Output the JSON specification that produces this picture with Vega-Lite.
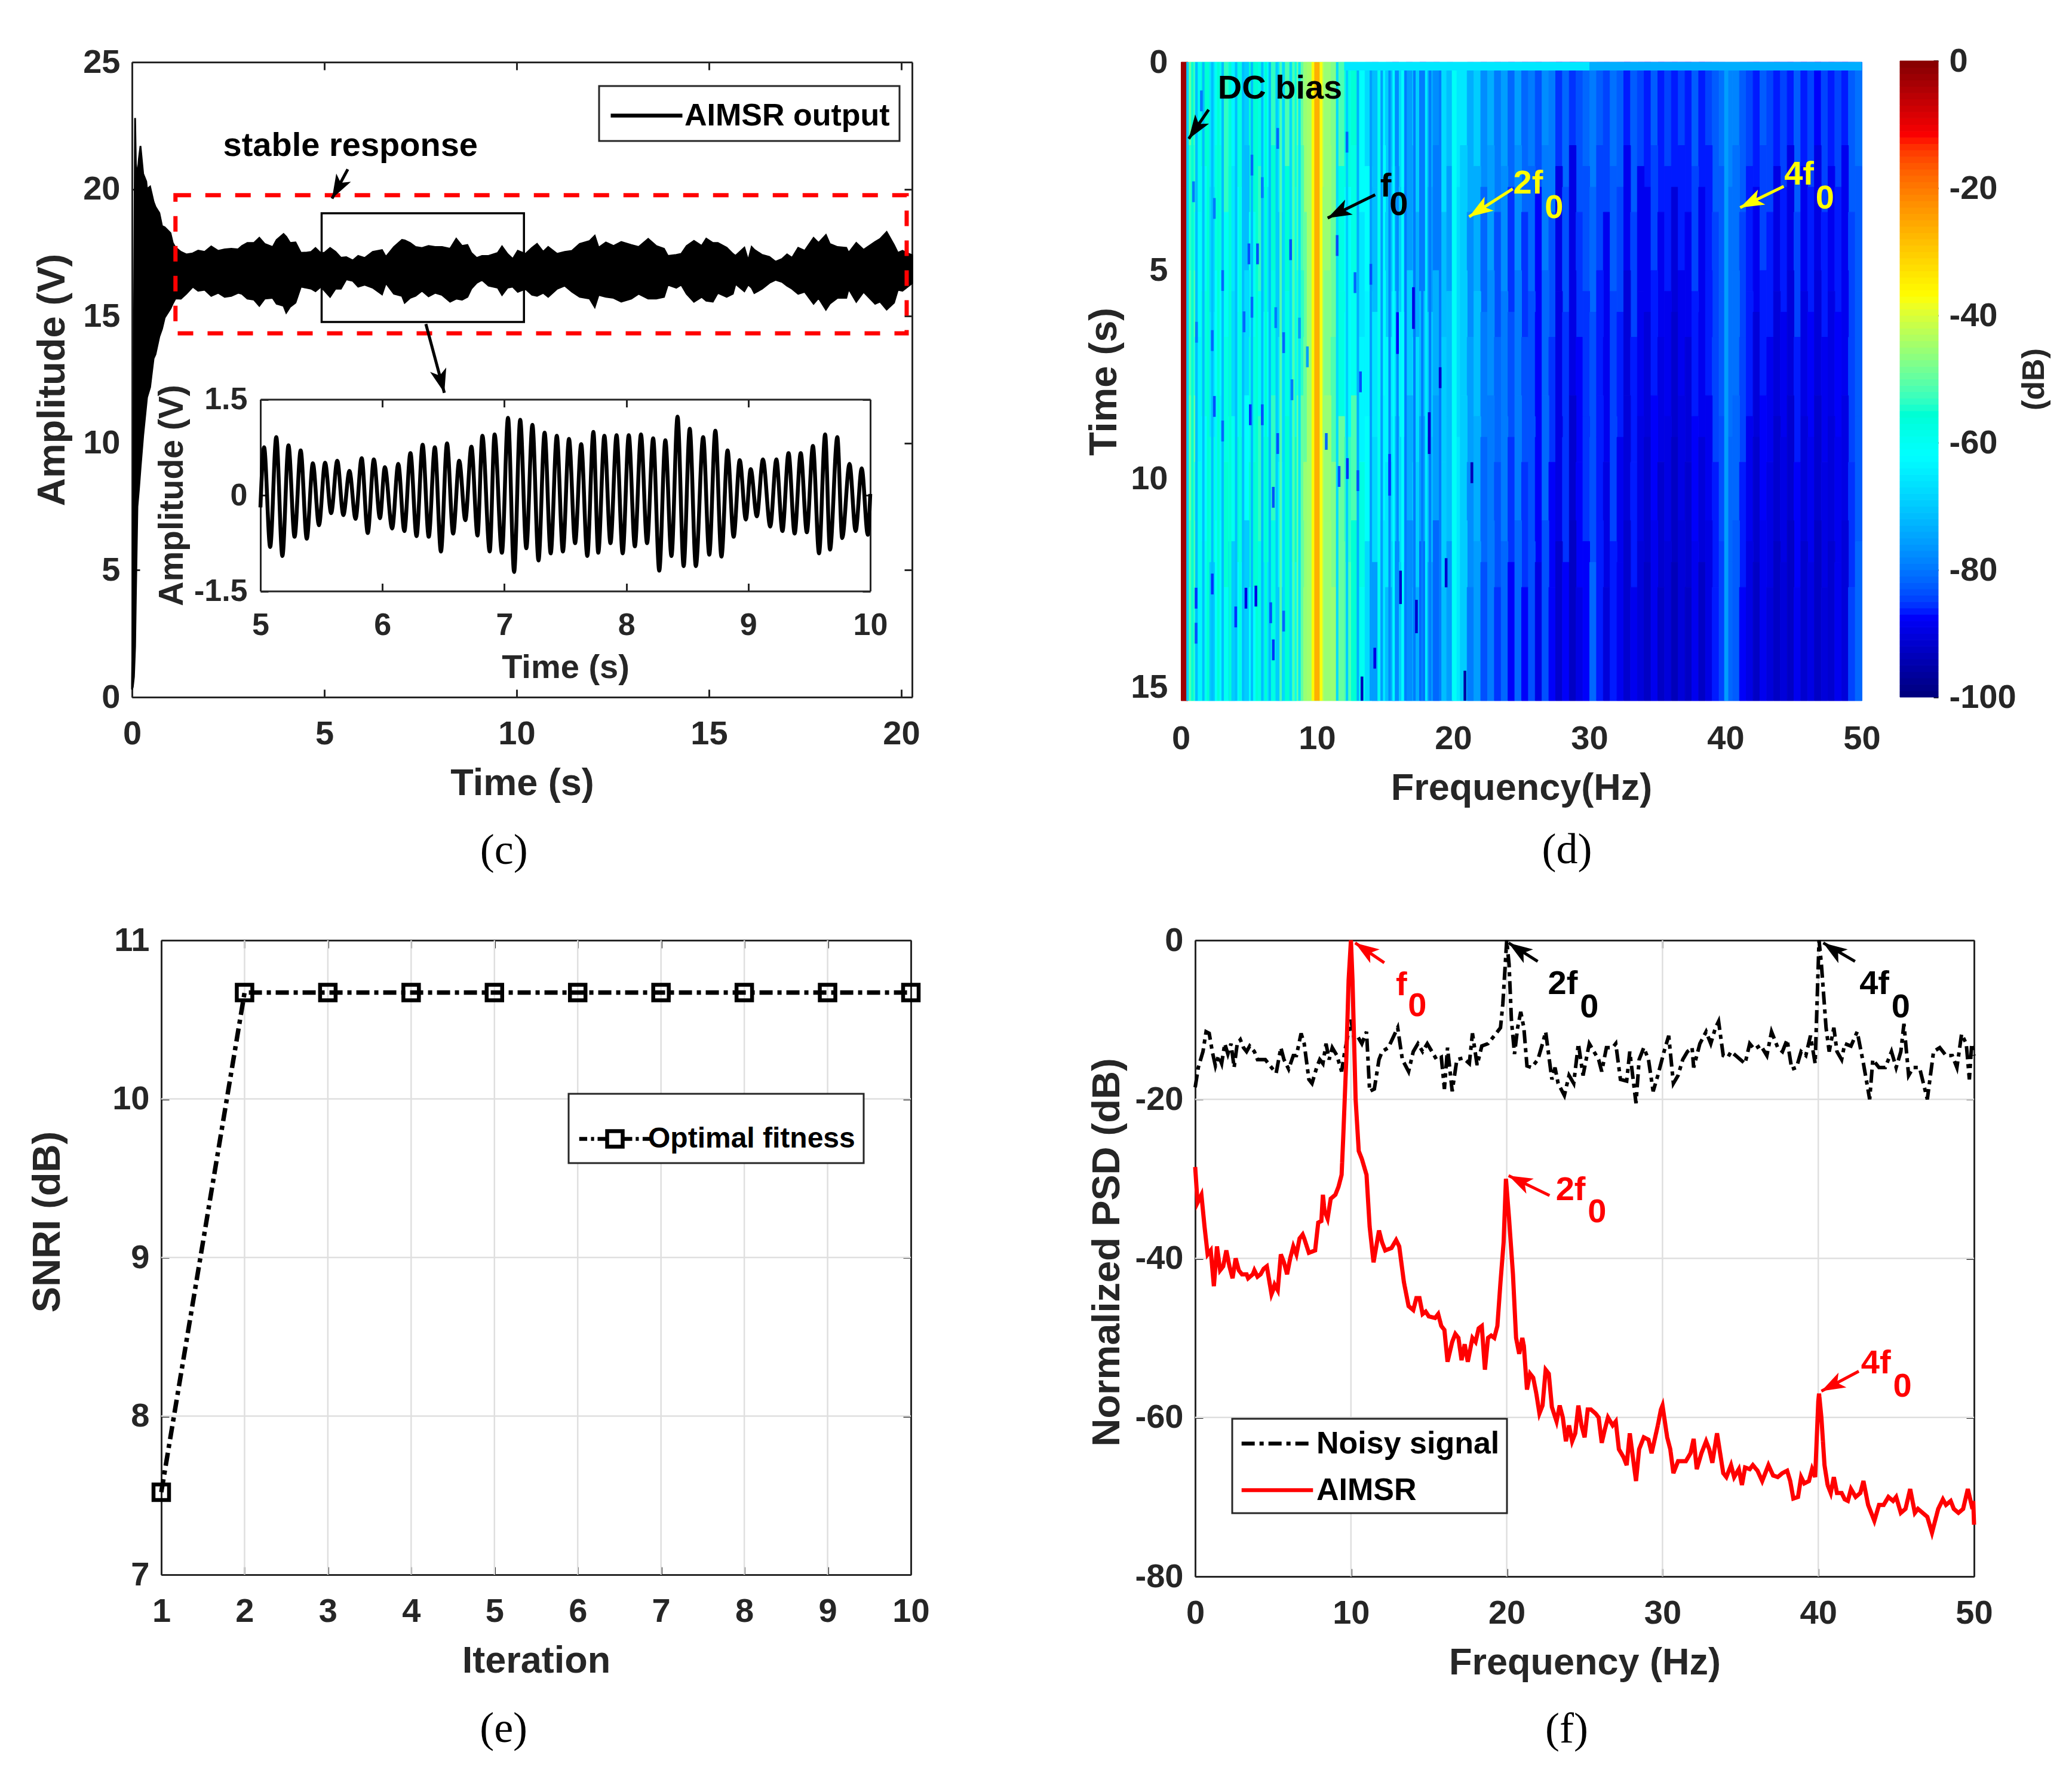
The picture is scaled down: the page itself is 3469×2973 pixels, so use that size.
{
"$schema":"https://vega.github.io/schema/vega-lite/v6.json",
"width":3469,"height":2973,"autosize":"none","padding":0,"background":"white",
"config":{"view":{"stroke":null},
"axis":{"grid":false,"labelFont":"Liberation Sans","labelFontWeight":"bold","labelFontSize":56,"labelColor":"#262626","labelOverlap":false,"labelBound":false,"labelFlush":false,"titleFont":"Liberation Sans","titleFontWeight":"bold","titleFontSize":63,"titleColor":"#262626","domainColor":"#262626","domainWidth":3,"tickColor":"#262626","tickWidth":3,"tickSize":-13},
"axisBottom":{"labelPadding":47,"titlePadding":24},
"axisLeft":{"labelPadding":33,"titleFontSize":65,"titlePadding":17},
"legend":{"strokeWidth":3}},
"datasets":{
"signal":[{"x":0,"hi":0.5,"lo":0.3},{"x":0.02,"hi":3,"lo":0.4},{"x":0.05,"hi":14,"lo":0.8},{"x":0.08,"hi":22.8,"lo":2},{"x":0.1,"hi":21,"lo":4},{"x":0.14,"hi":20.5,"lo":7.5},{"x":0.18,"hi":21.2,"lo":8.2},{"x":0.22,"hi":21.7,"lo":9},{"x":0.29,"hi":20.6,"lo":10.3},{"x":0.37,"hi":20.3,"lo":11.5},{"x":0.39,"hi":20,"lo":11.8},{"x":0.47,"hi":20.1,"lo":12.2},{"x":0.56,"hi":19.5,"lo":13.33},{"x":0.61,"hi":19.3,"lo":13.5},{"x":0.71,"hi":19.06,"lo":14.2},{"x":0.78,"hi":18.55,"lo":14.5},{"x":0.85,"hi":18.5,"lo":14.94},{"x":1,"hi":18.27,"lo":15.3},{"x":1.06,"hi":17.88,"lo":15.5},{"x":1.13,"hi":17.7,"lo":15.7},
{"x":1.27,"hi":17.53,"lo":15.69},{"x":1.41,"hi":17.43,"lo":15.88},{"x":1.58,"hi":17.47,"lo":16.16},{"x":1.72,"hi":17.58,"lo":16},{"x":1.89,"hi":17.53,"lo":16.04},{"x":2.06,"hi":17.74,"lo":15.8},{"x":2.24,"hi":17.57,"lo":15.92},{"x":2.41,"hi":17.63,"lo":15.76},{"x":2.58,"hi":17.65,"lo":15.8},{"x":2.76,"hi":17.63,"lo":15.92},{"x":2.86,"hi":17.76,"lo":15.88},{"x":3,"hi":17.88,"lo":15.69},{"x":3.17,"hi":17.88,"lo":15.65},{"x":3.31,"hi":18.08,"lo":15.41},{"x":3.45,"hi":17.84,"lo":15.69},{"x":3.66,"hi":17.72,"lo":15.72},{"x":3.76,"hi":18,"lo":15.49},{"x":3.94,"hi":18.23,"lo":15.41},{"x":4.01,"hi":18.12,"lo":15.14},{"x":4.11,"hi":17.88,"lo":15.37},{"x":4.25,"hi":17.9,"lo":15.53},{"x":4.39,"hi":17.49,"lo":16.16},{"x":4.53,"hi":17.5,"lo":16.12},{"x":4.66,"hi":17.53,"lo":16.08},{"x":4.77,"hi":17.68,"lo":15.98},{"x":4.91,"hi":17.47,"lo":16.16},{"x":5.01,"hi":17.5,"lo":16},{"x":5.15,"hi":17.68,"lo":15.76},{"x":5.29,"hi":17.53,"lo":16.08},{"x":5.43,"hi":17.3,"lo":16.08},{"x":5.57,"hi":17.32,"lo":16.45},{"x":5.74,"hi":17.19,"lo":16.39},{"x":5.88,"hi":17.37,"lo":16.16},{"x":6.05,"hi":17.29,"lo":16.24},{"x":6.26,"hi":17.53,"lo":16.12},{"x":6.5,"hi":17.6,"lo":15.86},{"x":6.6,"hi":17.33,"lo":16.31},{"x":6.81,"hi":17.72,"lo":15.88},{"x":7.02,"hi":18,"lo":15.8},{"x":7.09,"hi":17.98,"lo":15.53},{"x":7.23,"hi":17.88,"lo":15.72},{"x":7.37,"hi":17.72,"lo":15.8},{"x":7.54,"hi":17.68,"lo":16},{"x":7.71,"hi":17.76,"lo":15.78},{"x":7.88,"hi":17.72,"lo":15.92},{"x":8.06,"hi":17.72,"lo":15.84},{"x":8.27,"hi":17.65,"lo":15.57},{"x":8.43,"hi":18.04,"lo":15.69},{"x":8.58,"hi":17.76,"lo":15.65},{"x":8.72,"hi":17.8,"lo":15.76},{"x":8.82,"hi":17.49,"lo":16.08},{"x":8.96,"hi":17.29,"lo":16.31},{"x":9.1,"hi":17.37,"lo":16.43},{"x":9.27,"hi":17.37,"lo":16.2},{"x":9.51,"hi":17.49,"lo":16.12},{"x":9.62,"hi":17.74,"lo":15.84},{"x":9.76,"hi":17.45,"lo":16.12},{"x":9.9,"hi":17.25,"lo":16.16},{"x":10.03,"hi":17.57,"lo":15.96},
{"x":10.23,"hi":17.45,"lo":16.08},{"x":10.4,"hi":17.69,"lo":15.84},{"x":10.53,"hi":17.84,"lo":15.8},{"x":10.69,"hi":17.53,"lo":15.92},{"x":10.82,"hi":17.72,"lo":15.76},{"x":11.05,"hi":17.45,"lo":16.08},{"x":11.25,"hi":17.53,"lo":16.2},{"x":11.44,"hi":17.57,"lo":15.96},{"x":11.64,"hi":17.84,"lo":15.76},{"x":11.9,"hi":17.96,"lo":15.69},{"x":12.03,"hi":18.16,"lo":15.36},{"x":12.13,"hi":17.69,"lo":15.84},{"x":12.32,"hi":17.9,"lo":15.76},{"x":12.52,"hi":17.76,"lo":15.72},{"x":12.72,"hi":17.92,"lo":15.57},{"x":12.98,"hi":17.8,"lo":15.69},{"x":13.17,"hi":17.72,"lo":15.88},{"x":13.42,"hi":18.04,"lo":15.69},{"x":13.63,"hi":17.76,"lo":15.69},{"x":13.83,"hi":17.65,"lo":15.76},{"x":13.93,"hi":17.37,"lo":16.24},{"x":14.15,"hi":17.41,"lo":16.12},{"x":14.28,"hi":17.45,"lo":16.24},{"x":14.42,"hi":17.76,"lo":15.88},{"x":14.61,"hi":17.96,"lo":15.57},{"x":14.81,"hi":17.76,"lo":15.76},{"x":14.93,"hi":18.05,"lo":15.61},{"x":15.1,"hi":17.88,"lo":15.57},{"x":15.23,"hi":17.88,"lo":15.92},{"x":15.46,"hi":17.69,"lo":15.76},{"x":15.62,"hi":17.45,"lo":15.88},{"x":15.69,"hi":17.37,"lo":16.27},{"x":15.92,"hi":17.69,"lo":15.98},{"x":16.02,"hi":17.18,"lo":16.25},{"x":16.11,"hi":17.72,"lo":16.12},{"x":16.18,"hi":17.61,"lo":15.91},{"x":16.38,"hi":17.41,"lo":16.08},{"x":16.57,"hi":17.33,"lo":16.31},{"x":16.73,"hi":17.14,"lo":16.43},{"x":16.9,"hi":17.25,"lo":16.35},{"x":17.03,"hi":17.43,"lo":16.2},{"x":17.16,"hi":17.29,"lo":16.08},{"x":17.32,"hi":17.69,"lo":15.88},{"x":17.49,"hi":17.57,"lo":15.96},{"x":17.72,"hi":18.08,"lo":15.49},{"x":17.85,"hi":17.88,"lo":15.72},{"x":18.04,"hi":18.19,"lo":15.26},{"x":18.14,"hi":17.84,"lo":15.49},{"x":18.34,"hi":17.72,"lo":15.72},{"x":18.57,"hi":17.69,"lo":15.72},{"x":18.63,"hi":17.49,"lo":16.08},{"x":18.83,"hi":17.88,"lo":15.57},{"x":19.02,"hi":17.61,"lo":15.96},{"x":19.32,"hi":17.92,"lo":15.49},{"x":19.45,"hi":18.04,"lo":15.57},{"x":19.62,"hi":18.31,"lo":15.26},{"x":19.81,"hi":17.8,"lo":15.53},{"x":19.91,"hi":17.49,"lo":16.04},{"x":20.03,"hi":17.57,"lo":16},{"x":20.2,"hi":17.45,"lo":16.2},{"x":20.28,"hi":17.4,"lo":16.3}],
"inset":[{"x":5,"y":-0.19},{"x":5.03,"y":0.75},{"x":5.08,"y":-0.81},{"x":5.13,"y":0.91},{"x":5.18,"y":-0.95},{"x":5.23,"y":0.78},{"x":5.28,"y":-0.65},{"x":5.33,"y":0.7},{"x":5.38,"y":-0.68},{"x":5.43,"y":0.5},{"x":5.48,"y":-0.47},{"x":5.53,"y":0.51},{"x":5.58,"y":-0.28},{"x":5.63,"y":0.54},{"x":5.68,"y":-0.31},{"x":5.73,"y":0.38},{"x":5.78,"y":-0.37},{"x":5.83,"y":0.58},{"x":5.88,"y":-0.59},{"x":5.93,"y":0.56},{"x":5.98,"y":-0.36},{"x":6.02,"y":0.44},{"x":6.08,"y":-0.52},{"x":6.13,"y":0.49},{"x":6.18,"y":-0.56},{"x":6.23,"y":0.66},{"x":6.28,"y":-0.64},{"x":6.33,"y":0.79},{"x":6.38,"y":-0.65},{"x":6.43,"y":0.75},{"x":6.48,"y":-0.88},{"x":6.53,"y":0.81},{"x":6.58,"y":-0.6},{"x":6.63,"y":0.54},{"x":6.68,"y":-0.39},{"x":6.73,"y":0.76},{"x":6.78,"y":-0.63},{"x":6.82,"y":0.93},{"x":6.88,"y":-0.88},{"x":6.92,"y":0.95},{"x":6.98,"y":-0.9},{"x":7.03,"y":1.21},{"x":7.08,"y":-1.2},{"x":7.13,"y":1.18},{"x":7.18,"y":-0.83},{"x":7.23,"y":1.1},{"x":7.28,"y":-1.02},{"x":7.33,"y":0.98},{"x":7.38,"y":-0.91},{"x":7.43,"y":0.93},{"x":7.48,"y":-0.88},{"x":7.53,"y":0.88},{"x":7.58,"y":-0.75},{"x":7.63,"y":0.8},{"x":7.68,"y":-0.95},{"x":7.73,"y":0.99},{"x":7.77,"y":-0.9},{"x":7.82,"y":0.93},{"x":7.87,"y":-0.75},{"x":7.92,"y":0.94},{"x":7.97,"y":-0.91},{"x":8.02,"y":0.94},{"x":8.07,"y":-0.8},{"x":8.12,"y":0.95},{"x":8.17,"y":-0.75},{"x":8.22,"y":0.89},{"x":8.27,"y":-1.18},{"x":8.32,"y":0.86},{"x":8.37,"y":-0.95},{"x":8.42,"y":1.23},{"x":8.47,"y":-1.11},{"x":8.52,"y":1.04},{"x":8.57,"y":-1.11},{"x":8.63,"y":0.91},{"x":8.68,"y":-0.93},{"x":8.73,"y":1.01},{"x":8.78,"y":-0.96},{"x":8.83,"y":0.7},{"x":8.88,"y":-0.65},{"x":8.93,"y":0.55},{"x":8.98,"y":-0.38},{"x":9.02,"y":0.41},{"x":9.07,"y":-0.33},{"x":9.12,"y":0.56},{"x":9.18,"y":-0.49},{"x":9.23,"y":0.56},{"x":9.28,"y":-0.56},{"x":9.33,"y":0.66},{"x":9.38,"y":-0.6},{"x":9.43,"y":0.66},{"x":9.48,"y":-0.58},{"x":9.53,"y":0.77},{"x":9.58,"y":-0.91},{"x":9.63,"y":0.95},{"x":9.67,"y":-0.85},{"x":9.73,"y":0.91},{"x":9.77,"y":-0.67},{"x":9.83,"y":0.49},{"x":9.88,"y":-0.56},{"x":9.93,"y":0.42},{"x":9.98,"y":-0.62},{"x":10,"y":0.02}],
"heat":[
{"f":0,"t":0,"t2":3,"v":-3},{"f":0.5,"t":0,"t2":2,"v":-50},{"f":1,"t":0,"t2":3.6,"v":-60},{"f":1.5,"t":0,"t2":2.5,"v":-56},{"f":2,"t":0,"t2":3,"v":-66},{"f":2.5,"t":0,"t2":2,"v":-60},{"f":3,"t":0,"t2":3.6,"v":-54},{"f":3.5,"t":0,"t2":2.5,"v":-64},{"f":4,"t":0,"t2":3,"v":-58},{"f":4.5,"t":0,"t2":2,"v":-70},{"f":5,"t":0,"t2":3.6,"v":-56},{"f":5.5,"t":0,"t2":2.5,"v":-58},{"f":6,"t":0,"t2":3,"v":-62},{"f":6.5,"t":0,"t2":2,"v":-54},{"f":7,"t":0,"t2":3.6,"v":-66},{"f":7.5,"t":0,"t2":2.5,"v":-52},{"f":8,"t":0,"t2":3,"v":-58},{"f":8.5,"t":0,"t2":2,"v":-50},{"f":9,"t":0,"t2":3.6,"v":-46},{"f":9.5,"t":0,"t2":2.5,"v":-44},{"f":10,"t":0,"t2":3,"v":-44},{"f":10.5,"t":0,"t2":2,"v":-46},{"f":11,"t":0,"t2":3.6,"v":-48},{"f":11.5,"t":0,"t2":2.5,"v":-52},{"f":12,"t":0,"t2":3,"v":-58},{"f":12.5,"t":0,"t2":2,"v":-56},{"f":13,"t":0,"t2":3.6,"v":-62},{"f":13.5,"t":0,"t2":2.5,"v":-68},{"f":14,"t":0,"t2":3,"v":-72},{"f":14.5,"t":0,"t2":2,"v":-64},{"f":15,"t":0,"t2":3.6,"v":-70},{"f":15.5,"t":0,"t2":2.5,"v":-78},{"f":16,"t":0,"t2":3,"v":-68},{"f":16.5,"t":0,"t2":2,"v":-76},{"f":17,"t":0,"t2":3.6,"v":-70},{"f":17.5,"t":0,"t2":2.5,"v":-80},{"f":18,"t":0,"t2":3,"v":-74},{"f":18.5,"t":0,"t2":2,"v":-78},{"f":19,"t":0,"t2":3.6,"v":-68},{"f":19.5,"t":0,"t2":2.5,"v":-72},{"f":20,"t":0,"t2":3,"v":-66},{"f":20.5,"t":0,"t2":2,"v":-66},{"f":21,"t":0,"t2":3.6,"v":-74},{"f":21.5,"t":0,"t2":2.5,"v":-70},{"f":22,"t":0,"t2":3,"v":-78},{"f":22.5,"t":0,"t2":2,"v":-74},{"f":23,"t":0,"t2":3.6,"v":-80},{"f":23.5,"t":0,"t2":2.5,"v":-76},{"f":24,"t":0,"t2":3,"v":-82},{"f":24.5,"t":0,"t2":2,"v":-76},{"f":25,"t":0,"t2":3.6,"v":-82},{"f":25.5,"t":0,"t2":2.5,"v":-80},{"f":26,"t":0,"t2":3,"v":-84},{"f":26.5,"t":0,"t2":2,"v":-78},{"f":27,"t":0,"t2":3.6,"v":-80},{"f":27.5,"t":0,"t2":2.5,"v":-86},{"f":28,"t":0,"t2":3,"v":-82},{"f":28.5,"t":0,"t2":2,"v":-86},{"f":29,"t":0,"t2":3.6,"v":-84},{"f":29.5,"t":0,"t2":2.5,"v":-82},{"f":30,"t":0,"t2":3,"v":-80},{"f":30.5,"t":0,"t2":2,"v":-83},{"f":31,"t":0,"t2":3.6,"v":-85},{"f":31.5,"t":0,"t2":2.5,"v":-81},{"f":32,"t":0,"t2":3,"v":-83},{"f":32.5,"t":0,"t2":2,"v":-87},{"f":33,"t":0,"t2":3.6,"v":-83},{"f":33.5,"t":0,"t2":2.5,"v":-85},{"f":34,"t":0,"t2":3,"v":-87},{"f":34.5,"t":0,"t2":2,"v":-83},{"f":35,"t":0,"t2":3.6,"v":-87},{"f":35.5,"t":0,"t2":2.5,"v":-85},{"f":36,"t":0,"t2":3,"v":-87},{"f":36.5,"t":0,"t2":2,"v":-85},{"f":37,"t":0,"t2":3.6,"v":-87},{"f":37.5,"t":0,"t2":2.5,"v":-83},{"f":38,"t":0,"t2":3,"v":-87},{"f":38.5,"t":0,"t2":2,"v":-85},{"f":39,"t":0,"t2":3.6,"v":-83},{"f":39.5,"t":0,"t2":2.5,"v":-81},{"f":40,"t":0,"t2":3,"v":-79},{"f":40.5,"t":0,"t2":2,"v":-79},{"f":41,"t":0,"t2":3.6,"v":-83},{"f":41.5,"t":0,"t2":2.5,"v":-85},{"f":42,"t":0,"t2":3,"v":-87},{"f":42.5,"t":0,"t2":2,"v":-83},{"f":43,"t":0,"t2":3.6,"v":-85},{"f":43.5,"t":0,"t2":2.5,"v":-87},{"f":44,"t":0,"t2":3,"v":-85},{"f":44.5,"t":0,"t2":2,"v":-87},{"f":45,"t":0,"t2":3.6,"v":-83},{"f":45.5,"t":0,"t2":2.5,"v":-87},{"f":46,"t":0,"t2":3,"v":-85},{"f":46.5,"t":0,"t2":2,"v":-88},{"f":47,"t":0,"t2":3.6,"v":-85},{"f":47.5,"t":0,"t2":2.5,"v":-87},{"f":48,"t":0,"t2":3,"v":-85},{"f":48.5,"t":0,"t2":2,"v":-87},{"f":49,"t":0,"t2":3.6,"v":-83},{"f":49.5,"t":0,"t2":2.5,"v":-81},
{"f":0,"t":3,"t2":6,"v":-3},{"f":0.5,"t":2,"t2":5,"v":-54},{"f":1,"t":3.6,"t2":6.6,"v":-62},{"f":1.5,"t":2.5,"t2":5.5,"v":-60},{"f":2,"t":3,"t2":6,"v":-68},{"f":2.5,"t":2,"t2":5,"v":-58},{"f":3,"t":3.6,"t2":6.6,"v":-60},{"f":3.5,"t":2.5,"t2":5.5,"v":-66},{"f":4,"t":3,"t2":6,"v":-62},{"f":4.5,"t":2,"t2":5,"v":-72},{"f":5,"t":3.6,"t2":6.6,"v":-60},{"f":5.5,"t":2.5,"t2":5.5,"v":-54},{"f":6,"t":3,"t2":6,"v":-66},{"f":6.5,"t":2,"t2":5,"v":-56},{"f":7,"t":3.6,"t2":6.6,"v":-70},{"f":7.5,"t":2.5,"t2":5.5,"v":-56},{"f":8,"t":3,"t2":6,"v":-60},{"f":8.5,"t":2,"t2":5,"v":-52},{"f":9,"t":3.6,"t2":6.6,"v":-50},{"f":9.5,"t":2.5,"t2":5.5,"v":-46},{"f":10,"t":3,"t2":6,"v":-46},{"f":10.5,"t":2,"t2":5,"v":-46},{"f":11,"t":3.6,"t2":6.6,"v":-50},{"f":11.5,"t":2.5,"t2":5.5,"v":-58},{"f":12,"t":3,"t2":6,"v":-62},{"f":12.5,"t":2,"t2":5,"v":-58},{"f":13,"t":3.6,"t2":6.6,"v":-66},{"f":13.5,"t":2.5,"t2":5.5,"v":-62},{"f":14,"t":3,"t2":6,"v":-72},{"f":14.5,"t":2,"t2":5,"v":-62},{"f":15,"t":3.6,"t2":6.6,"v":-70},{"f":15.5,"t":2.5,"t2":5.5,"v":-76},{"f":16,"t":3,"t2":6,"v":-70},{"f":16.5,"t":2,"t2":5,"v":-76},{"f":17,"t":3.6,"t2":6.6,"v":-74},{"f":17.5,"t":2.5,"t2":5.5,"v":-80},{"f":18,"t":3,"t2":6,"v":-76},{"f":18.5,"t":2,"t2":5,"v":-80},{"f":19,"t":3.6,"t2":6.6,"v":-72},{"f":19.5,"t":2.5,"t2":5.5,"v":-76},{"f":20,"t":3,"t2":6,"v":-68},{"f":20.5,"t":2,"t2":5,"v":-70},{"f":21,"t":3.6,"t2":6.6,"v":-78},{"f":21.5,"t":2.5,"t2":5.5,"v":-74},{"f":22,"t":3,"t2":6,"v":-82},{"f":22.5,"t":2,"t2":5,"v":-76},{"f":23,"t":3.6,"t2":6.6,"v":-84},{"f":23.5,"t":2.5,"t2":5.5,"v":-78},{"f":24,"t":3,"t2":6,"v":-86},{"f":24.5,"t":2,"t2":5,"v":-78},{"f":25,"t":3.6,"t2":6.6,"v":-86},{"f":25.5,"t":2.5,"t2":5.5,"v":-82},{"f":26,"t":3,"t2":6,"v":-88},{"f":26.5,"t":2,"t2":5,"v":-80},{"f":27,"t":3.6,"t2":6.6,"v":-84},{"f":27.5,"t":2.5,"t2":5.5,"v":-90},{"f":28,"t":3,"t2":6,"v":-84},{"f":28.5,"t":2,"t2":5,"v":-90},{"f":29,"t":3.6,"t2":6.6,"v":-86},{"f":29.5,"t":2.5,"t2":5.5,"v":-84},{"f":30,"t":3,"t2":6,"v":-82},{"f":30.5,"t":2,"t2":5,"v":-85},{"f":31,"t":3.6,"t2":6.6,"v":-89},{"f":31.5,"t":2.5,"t2":5.5,"v":-83},{"f":32,"t":3,"t2":6,"v":-85},{"f":32.5,"t":2,"t2":5,"v":-89},{"f":33,"t":3.6,"t2":6.6,"v":-85},{"f":33.5,"t":2.5,"t2":5.5,"v":-89},{"f":34,"t":3,"t2":6,"v":-89},{"f":34.5,"t":2,"t2":5,"v":-85},{"f":35,"t":3.6,"t2":6.6,"v":-89},{"f":35.5,"t":2.5,"t2":5.5,"v":-87},{"f":36,"t":3,"t2":6,"v":-91},{"f":36.5,"t":2,"t2":5,"v":-87},{"f":37,"t":3.6,"t2":6.6,"v":-89},{"f":37.5,"t":2.5,"t2":5.5,"v":-85},{"f":38,"t":3,"t2":6,"v":-89},{"f":38.5,"t":2,"t2":5,"v":-87},{"f":39,"t":3.6,"t2":6.6,"v":-85},{"f":39.5,"t":2.5,"t2":5.5,"v":-83},{"f":40,"t":3,"t2":6,"v":-81},{"f":40.5,"t":2,"t2":5,"v":-81},{"f":41,"t":3.6,"t2":6.6,"v":-85},{"f":41.5,"t":2.5,"t2":5.5,"v":-87},{"f":42,"t":3,"t2":6,"v":-89},{"f":42.5,"t":2,"t2":5,"v":-85},{"f":43,"t":3.6,"t2":6.6,"v":-87},{"f":43.5,"t":2.5,"t2":5.5,"v":-90},{"f":44,"t":3,"t2":6,"v":-87},{"f":44.5,"t":2,"t2":5,"v":-90},{"f":45,"t":3.6,"t2":6.6,"v":-85},{"f":45.5,"t":2.5,"t2":5.5,"v":-89},{"f":46,"t":3,"t2":6,"v":-87},{"f":46.5,"t":2,"t2":5,"v":-90},{"f":47,"t":3.6,"t2":6.6,"v":-87},{"f":47.5,"t":2.5,"t2":5.5,"v":-89},{"f":48,"t":3,"t2":6,"v":-87},{"f":48.5,"t":2,"t2":5,"v":-89},{"f":49,"t":3.6,"t2":6.6,"v":-85},{"f":49.5,"t":2.5,"t2":5.5,"v":-83},
{"f":0,"t":6,"t2":9,"v":-3},{"f":0.5,"t":5,"t2":8,"v":-52},{"f":1,"t":6.6,"t2":9.6,"v":-64},{"f":1.5,"t":5.5,"t2":8.5,"v":-58},{"f":2,"t":6,"t2":9,"v":-66},{"f":2.5,"t":5,"t2":8,"v":-62},{"f":3,"t":6.6,"t2":9.6,"v":-58},{"f":3.5,"t":5.5,"t2":8.5,"v":-68},{"f":4,"t":6,"t2":9,"v":-60},{"f":4.5,"t":5,"t2":8,"v":-68},{"f":5,"t":6.6,"t2":9.6,"v":-58},{"f":5.5,"t":5.5,"t2":8.5,"v":-60},{"f":6,"t":6,"t2":9,"v":-62},{"f":6.5,"t":5,"t2":8,"v":-58},{"f":7,"t":6.6,"t2":9.6,"v":-66},{"f":7.5,"t":5.5,"t2":8.5,"v":-58},{"f":8,"t":6,"t2":9,"v":-60},{"f":8.5,"t":5,"t2":8,"v":-54},{"f":9,"t":6.6,"t2":9.6,"v":-50},{"f":9.5,"t":5.5,"t2":8.5,"v":-46},{"f":10,"t":6,"t2":9,"v":-46},{"f":10.5,"t":5,"t2":8,"v":-48},{"f":11,"t":6.6,"t2":9.6,"v":-52},{"f":11.5,"t":5.5,"t2":8.5,"v":-58},{"f":12,"t":6,"t2":9,"v":-62},{"f":12.5,"t":5,"t2":8,"v":-60},{"f":13,"t":6.6,"t2":9.6,"v":-64},{"f":13.5,"t":5.5,"t2":8.5,"v":-64},{"f":14,"t":6,"t2":9,"v":-66},{"f":14.5,"t":5,"t2":8,"v":-62},{"f":15,"t":6.6,"t2":9.6,"v":-64},{"f":15.5,"t":5.5,"t2":8.5,"v":-68},{"f":16,"t":6,"t2":9,"v":-64},{"f":16.5,"t":5,"t2":8,"v":-70},{"f":17,"t":6.6,"t2":9.6,"v":-68},{"f":17.5,"t":5.5,"t2":8.5,"v":-72},{"f":18,"t":6,"t2":9,"v":-70},{"f":18.5,"t":5,"t2":8,"v":-74},{"f":19,"t":6.6,"t2":9.6,"v":-70},{"f":19.5,"t":5.5,"t2":8.5,"v":-72},{"f":20,"t":6,"t2":9,"v":-68},{"f":20.5,"t":5,"t2":8,"v":-70},{"f":21,"t":6.6,"t2":9.6,"v":-76},{"f":21.5,"t":5.5,"t2":8.5,"v":-72},{"f":22,"t":6,"t2":9,"v":-80},{"f":22.5,"t":5,"t2":8,"v":-78},{"f":23,"t":6.6,"t2":9.6,"v":-82},{"f":23.5,"t":5.5,"t2":8.5,"v":-80},{"f":24,"t":6,"t2":9,"v":-84},{"f":24.5,"t":5,"t2":8,"v":-80},{"f":25,"t":6.6,"t2":9.6,"v":-84},{"f":25.5,"t":5.5,"t2":8.5,"v":-84},{"f":26,"t":6,"t2":9,"v":-88},{"f":26.5,"t":5,"t2":8,"v":-82},{"f":27,"t":6.6,"t2":9.6,"v":-86},{"f":27.5,"t":5.5,"t2":8.5,"v":-90},{"f":28,"t":6,"t2":9,"v":-86},{"f":28.5,"t":5,"t2":8,"v":-90},{"f":29,"t":6.6,"t2":9.6,"v":-88},{"f":29.5,"t":5.5,"t2":8.5,"v":-86},{"f":30,"t":6,"t2":9,"v":-84},{"f":30.5,"t":5,"t2":8,"v":-87},{"f":31,"t":6.6,"t2":9.6,"v":-89},{"f":31.5,"t":5.5,"t2":8.5,"v":-85},{"f":32,"t":6,"t2":9,"v":-87},{"f":32.5,"t":5,"t2":8,"v":-91},{"f":33,"t":6.6,"t2":9.6,"v":-87},{"f":33.5,"t":5.5,"t2":8.5,"v":-89},{"f":34,"t":6,"t2":9,"v":-91},{"f":34.5,"t":5,"t2":8,"v":-87},{"f":35,"t":6.6,"t2":9.6,"v":-90},{"f":35.5,"t":5.5,"t2":8.5,"v":-89},{"f":36,"t":6,"t2":9,"v":-92},{"f":36.5,"t":5,"t2":8,"v":-89},{"f":37,"t":6.6,"t2":9.6,"v":-91},{"f":37.5,"t":5.5,"t2":8.5,"v":-87},{"f":38,"t":6,"t2":9,"v":-89},{"f":38.5,"t":5,"t2":8,"v":-87},{"f":39,"t":6.6,"t2":9.6,"v":-85},{"f":39.5,"t":5.5,"t2":8.5,"v":-83},{"f":40,"t":6,"t2":9,"v":-81},{"f":40.5,"t":5,"t2":8,"v":-81},{"f":41,"t":6.6,"t2":9.6,"v":-85},{"f":41.5,"t":5.5,"t2":8.5,"v":-87},{"f":42,"t":6,"t2":9,"v":-91},{"f":42.5,"t":5,"t2":8,"v":-87},{"f":43,"t":6.6,"t2":9.6,"v":-89},{"f":43.5,"t":5.5,"t2":8.5,"v":-91},{"f":44,"t":6,"t2":9,"v":-89},{"f":44.5,"t":5,"t2":8,"v":-91},{"f":45,"t":6.6,"t2":9.6,"v":-87},{"f":45.5,"t":5.5,"t2":8.5,"v":-90},{"f":46,"t":6,"t2":9,"v":-88},{"f":46.5,"t":5,"t2":8,"v":-91},{"f":47,"t":6.6,"t2":9.6,"v":-89},{"f":47.5,"t":5.5,"t2":8.5,"v":-90},{"f":48,"t":6,"t2":9,"v":-88},{"f":48.5,"t":5,"t2":8,"v":-89},{"f":49,"t":6.6,"t2":9.6,"v":-85},{"f":49.5,"t":5.5,"t2":8.5,"v":-83},
{"f":0,"t":9,"t2":12,"v":-3},{"f":0.5,"t":8,"t2":11,"v":-50},{"f":1,"t":9.6,"t2":12.6,"v":-60},{"f":1.5,"t":8.5,"t2":11.5,"v":-62},{"f":2,"t":9,"t2":12,"v":-58},{"f":2.5,"t":8,"t2":11,"v":-64},{"f":3,"t":9.6,"t2":12.6,"v":-56},{"f":3.5,"t":8.5,"t2":11.5,"v":-60},{"f":4,"t":9,"t2":12,"v":-56},{"f":4.5,"t":8,"t2":11,"v":-62},{"f":5,"t":9.6,"t2":12.6,"v":-56},{"f":5.5,"t":8.5,"t2":11.5,"v":-54},{"f":6,"t":9,"t2":12,"v":-58},{"f":6.5,"t":8,"t2":11,"v":-54},{"f":7,"t":9.6,"t2":12.6,"v":-64},{"f":7.5,"t":8.5,"t2":11.5,"v":-56},{"f":8,"t":9,"t2":12,"v":-56},{"f":8.5,"t":8,"t2":11,"v":-50},{"f":9,"t":9.6,"t2":12.6,"v":-46},{"f":9.5,"t":8.5,"t2":11.5,"v":-44},{"f":10,"t":9,"t2":12,"v":-44},{"f":10.5,"t":8,"t2":11,"v":-46},{"f":11,"t":9.6,"t2":12.6,"v":-48},{"f":11.5,"t":8.5,"t2":11.5,"v":-50},{"f":12,"t":9,"t2":12,"v":-54},{"f":12.5,"t":8,"t2":11,"v":-52},{"f":13,"t":9.6,"t2":12.6,"v":-58},{"f":13.5,"t":8.5,"t2":11.5,"v":-62},{"f":14,"t":9,"t2":12,"v":-68},{"f":14.5,"t":8,"t2":11,"v":-64},{"f":15,"t":9.6,"t2":12.6,"v":-66},{"f":15.5,"t":8.5,"t2":11.5,"v":-72},{"f":16,"t":9,"t2":12,"v":-68},{"f":16.5,"t":8,"t2":11,"v":-74},{"f":17,"t":9.6,"t2":12.6,"v":-70},{"f":17.5,"t":8.5,"t2":11.5,"v":-76},{"f":18,"t":9,"t2":12,"v":-72},{"f":18.5,"t":8,"t2":11,"v":-76},{"f":19,"t":9.6,"t2":12.6,"v":-70},{"f":19.5,"t":8.5,"t2":11.5,"v":-72},{"f":20,"t":9,"t2":12,"v":-66},{"f":20.5,"t":8,"t2":11,"v":-70},{"f":21,"t":9.6,"t2":12.6,"v":-78},{"f":21.5,"t":8.5,"t2":11.5,"v":-74},{"f":22,"t":9,"t2":12,"v":-82},{"f":22.5,"t":8,"t2":11,"v":-80},{"f":23,"t":9.6,"t2":12.6,"v":-84},{"f":23.5,"t":8.5,"t2":11.5,"v":-80},{"f":24,"t":9,"t2":12,"v":-86},{"f":24.5,"t":8,"t2":11,"v":-80},{"f":25,"t":9.6,"t2":12.6,"v":-86},{"f":25.5,"t":8.5,"t2":11.5,"v":-84},{"f":26,"t":9,"t2":12,"v":-88},{"f":26.5,"t":8,"t2":11,"v":-82},{"f":27,"t":9.6,"t2":12.6,"v":-88},{"f":27.5,"t":8.5,"t2":11.5,"v":-90},{"f":28,"t":9,"t2":12,"v":-86},{"f":28.5,"t":8,"t2":11,"v":-92},{"f":29,"t":9.6,"t2":12.6,"v":-88},{"f":29.5,"t":8.5,"t2":11.5,"v":-86},{"f":30,"t":9,"t2":12,"v":-84},{"f":30.5,"t":8,"t2":11,"v":-87},{"f":31,"t":9.6,"t2":12.6,"v":-90},{"f":31.5,"t":8.5,"t2":11.5,"v":-85},{"f":32,"t":9,"t2":12,"v":-89},{"f":32.5,"t":8,"t2":11,"v":-91},{"f":33,"t":9.6,"t2":12.6,"v":-87},{"f":33.5,"t":8.5,"t2":11.5,"v":-90},{"f":34,"t":9,"t2":12,"v":-92},{"f":34.5,"t":8,"t2":11,"v":-88},{"f":35,"t":9.6,"t2":12.6,"v":-92},{"f":35.5,"t":8.5,"t2":11.5,"v":-90},{"f":36,"t":9,"t2":12,"v":-93},{"f":36.5,"t":8,"t2":11,"v":-90},{"f":37,"t":9.6,"t2":12.6,"v":-92},{"f":37.5,"t":8.5,"t2":11.5,"v":-88},{"f":38,"t":9,"t2":12,"v":-91},{"f":38.5,"t":8,"t2":11,"v":-89},{"f":39,"t":9.6,"t2":12.6,"v":-87},{"f":39.5,"t":8.5,"t2":11.5,"v":-84},{"f":40,"t":9,"t2":12,"v":-82},{"f":40.5,"t":8,"t2":11,"v":-82},{"f":41,"t":9.6,"t2":12.6,"v":-87},{"f":41.5,"t":8.5,"t2":11.5,"v":-89},{"f":42,"t":9,"t2":12,"v":-92},{"f":42.5,"t":8,"t2":11,"v":-88},{"f":43,"t":9.6,"t2":12.6,"v":-90},{"f":43.5,"t":8.5,"t2":11.5,"v":-92},{"f":44,"t":9,"t2":12,"v":-90},{"f":44.5,"t":8,"t2":11,"v":-92},{"f":45,"t":9.6,"t2":12.6,"v":-88},{"f":45.5,"t":8.5,"t2":11.5,"v":-91},{"f":46,"t":9,"t2":12,"v":-89},{"f":46.5,"t":8,"t2":11,"v":-92},{"f":47,"t":9.6,"t2":12.6,"v":-90},{"f":47.5,"t":8.5,"t2":11.5,"v":-91},{"f":48,"t":9,"t2":12,"v":-89},{"f":48.5,"t":8,"t2":11,"v":-90},{"f":49,"t":9.6,"t2":12.6,"v":-86},{"f":49.5,"t":8.5,"t2":11.5,"v":-83},
{"f":0,"t":12,"t2":15.32,"v":-3},{"f":0.5,"t":11,"t2":15.32,"v":-52},{"f":1,"t":12.6,"t2":15.32,"v":-64},{"f":1.5,"t":11.5,"t2":15.32,"v":-60},{"f":2,"t":12,"t2":15.32,"v":-70},{"f":2.5,"t":11,"t2":15.32,"v":-62},{"f":3,"t":12.6,"t2":15.32,"v":-60},{"f":3.5,"t":11.5,"t2":15.32,"v":-70},{"f":4,"t":12,"t2":15.32,"v":-62},{"f":4.5,"t":11,"t2":15.32,"v":-70},{"f":5,"t":12.6,"t2":15.32,"v":-62},{"f":5.5,"t":11.5,"t2":15.32,"v":-58},{"f":6,"t":12,"t2":15.32,"v":-66},{"f":6.5,"t":11,"t2":15.32,"v":-58},{"f":7,"t":12.6,"t2":15.32,"v":-70},{"f":7.5,"t":11.5,"t2":15.32,"v":-56},{"f":8,"t":12,"t2":15.32,"v":-60},{"f":8.5,"t":11,"t2":15.32,"v":-50},{"f":9,"t":12.6,"t2":15.32,"v":-46},{"f":9.5,"t":11.5,"t2":15.32,"v":-44},{"f":10,"t":12,"t2":15.32,"v":-44},{"f":10.5,"t":11,"t2":15.32,"v":-46},{"f":11,"t":12.6,"t2":15.32,"v":-46},{"f":11.5,"t":11.5,"t2":15.32,"v":-50},{"f":12,"t":12,"t2":15.32,"v":-52},{"f":12.5,"t":11,"t2":15.32,"v":-56},{"f":13,"t":12.6,"t2":15.32,"v":-60},{"f":13.5,"t":11.5,"t2":15.32,"v":-68},{"f":14,"t":12,"t2":15.32,"v":-76},{"f":14.5,"t":11,"t2":15.32,"v":-66},{"f":15,"t":12.6,"t2":15.32,"v":-72},{"f":15.5,"t":11.5,"t2":15.32,"v":-78},{"f":16,"t":12,"t2":15.32,"v":-70},{"f":16.5,"t":11,"t2":15.32,"v":-78},{"f":17,"t":12.6,"t2":15.32,"v":-74},{"f":17.5,"t":11.5,"t2":15.32,"v":-82},{"f":18,"t":12,"t2":15.32,"v":-76},{"f":18.5,"t":11,"t2":15.32,"v":-82},{"f":19,"t":12.6,"t2":15.32,"v":-72},{"f":19.5,"t":11.5,"t2":15.32,"v":-76},{"f":20,"t":12,"t2":15.32,"v":-66},{"f":20.5,"t":11,"t2":15.32,"v":-70},{"f":21,"t":12.6,"t2":15.32,"v":-80},{"f":21.5,"t":11.5,"t2":15.32,"v":-76},{"f":22,"t":12,"t2":15.32,"v":-84},{"f":22.5,"t":11,"t2":15.32,"v":-80},{"f":23,"t":12.6,"t2":15.32,"v":-86},{"f":23.5,"t":11.5,"t2":15.32,"v":-82},{"f":24,"t":12,"t2":15.32,"v":-88},{"f":24.5,"t":11,"t2":15.32,"v":-82},{"f":25,"t":12.6,"t2":15.32,"v":-88},{"f":25.5,"t":11.5,"t2":15.32,"v":-84},{"f":26,"t":12,"t2":15.32,"v":-90},{"f":26.5,"t":11,"t2":15.32,"v":-84},{"f":27,"t":12.6,"t2":15.32,"v":-88},{"f":27.5,"t":11.5,"t2":15.32,"v":-92},{"f":28,"t":12,"t2":15.32,"v":-88},{"f":28.5,"t":11,"t2":15.32,"v":-93},{"f":29,"t":12.6,"t2":15.32,"v":-90},{"f":29.5,"t":11.5,"t2":15.32,"v":-88},{"f":30,"t":12,"t2":15.32,"v":-82},{"f":30.5,"t":11,"t2":15.32,"v":-87},{"f":31,"t":12.6,"t2":15.32,"v":-91},{"f":31.5,"t":11.5,"t2":15.32,"v":-87},{"f":32,"t":12,"t2":15.32,"v":-89},{"f":32.5,"t":11,"t2":15.32,"v":-92},{"f":33,"t":12.6,"t2":15.32,"v":-89},{"f":33.5,"t":11.5,"t2":15.32,"v":-91},{"f":34,"t":12,"t2":15.32,"v":-93},{"f":34.5,"t":11,"t2":15.32,"v":-89},{"f":35,"t":12.6,"t2":15.32,"v":-93},{"f":35.5,"t":11.5,"t2":15.32,"v":-91},{"f":36,"t":12,"t2":15.32,"v":-94},{"f":36.5,"t":11,"t2":15.32,"v":-91},{"f":37,"t":12.6,"t2":15.32,"v":-93},{"f":37.5,"t":11.5,"t2":15.32,"v":-89},{"f":38,"t":12,"t2":15.32,"v":-93},{"f":38.5,"t":11,"t2":15.32,"v":-90},{"f":39,"t":12.6,"t2":15.32,"v":-87},{"f":39.5,"t":11.5,"t2":15.32,"v":-85},{"f":40,"t":12,"t2":15.32,"v":-82},{"f":40.5,"t":11,"t2":15.32,"v":-83},{"f":41,"t":12.6,"t2":15.32,"v":-88},{"f":41.5,"t":11.5,"t2":15.32,"v":-90},{"f":42,"t":12,"t2":15.32,"v":-93},{"f":42.5,"t":11,"t2":15.32,"v":-89},{"f":43,"t":12.6,"t2":15.32,"v":-91},{"f":43.5,"t":11.5,"t2":15.32,"v":-93},{"f":44,"t":12,"t2":15.32,"v":-91},{"f":44.5,"t":11,"t2":15.32,"v":-93},{"f":45,"t":12.6,"t2":15.32,"v":-89},{"f":45.5,"t":11.5,"t2":15.32,"v":-92},{"f":46,"t":12,"t2":15.32,"v":-90},{"f":46.5,"t":11,"t2":15.32,"v":-93},{"f":47,"t":12.6,"t2":15.32,"v":-91},{"f":47.5,"t":11.5,"t2":15.32,"v":-92},{"f":48,"t":12,"t2":15.32,"v":-89},{"f":48.5,"t":11,"t2":15.32,"v":-91},{"f":49,"t":12.6,"t2":15.32,"v":-85},{"f":49.5,"t":11.5,"t2":15.32,"v":-82}],
"detail":[
{"x":0.4,"x2":0.58,"y":0,"y2":15.32,"v":-70},{"x":0.76,"x2":0.94,"y":0,"y2":15.32,"v":-56},{"x":1.06,"x2":1.24,"y":0,"y2":15.32,"v":-72},{"x":1.56,"x2":1.74,"y":0,"y2":15.32,"v":-72},{"x":1.91,"x2":2.09,"y":0,"y2":15.32,"v":-56},{"x":2.22,"x2":2.4,"y":0,"y2":15.32,"v":-72},{"x":2.66,"x2":2.84,"y":0,"y2":15.32,"v":-56},{"x":2.98,"x2":3.16,"y":0,"y2":15.32,"v":-72},{"x":3.53,"x2":3.71,"y":0,"y2":15.32,"v":-56},{"x":3.97,"x2":4.15,"y":0,"y2":15.32,"v":-72},{"x":4.26,"x2":4.44,"y":0,"y2":15.32,"v":-58},{"x":4.48,"x2":4.66,"y":0,"y2":15.32,"v":-72},{"x":5.13,"x2":5.31,"y":0,"y2":15.32,"v":-72},{"x":5.49,"x2":5.67,"y":0,"y2":15.32,"v":-56},{"x":5.89,"x2":6.07,"y":0,"y2":15.32,"v":-72},{"x":6.15,"x2":6.33,"y":0,"y2":15.32,"v":-56},{"x":6.44,"x2":6.62,"y":0,"y2":15.32,"v":-72},{"x":6.95,"x2":7.13,"y":0,"y2":15.32,"v":-70},{"x":7.24,"x2":7.42,"y":0,"y2":15.32,"v":-52},{"x":7.46,"x2":7.64,"y":0,"y2":15.32,"v":-68},{"x":7.97,"x2":8.15,"y":0,"y2":15.32,"v":-68},{"x":8.18,"x2":8.36,"y":0,"y2":15.32,"v":-52},{"x":8.62,"x2":8.8,"y":0,"y2":15.32,"v":-66},{"x":11.39,"x2":11.57,"y":0,"y2":15.32,"v":-68},{"x":12.11,"x2":12.29,"y":0,"y2":15.32,"v":-70},{"x":12.91,"x2":13.09,"y":0,"y2":15.32,"v":-74},{"x":13.86,"x2":14.04,"y":0,"y2":15.32,"v":-76},{"x":14.44,"x2":14.62,"y":0,"y2":15.32,"v":-60},{"x":14.66,"x2":14.84,"y":0,"y2":15.32,"v":-76},{"x":15.24,"x2":15.42,"y":0,"y2":15.32,"v":-78},{"x":15.53,"x2":15.71,"y":0,"y2":15.32,"v":-62},{"x":15.82,"x2":16,"y":0,"y2":15.32,"v":-78},{"x":16.19,"x2":16.37,"y":0,"y2":15.32,"v":-62},{"x":16.41,"x2":16.59,"y":0,"y2":15.32,"v":-80},{"x":17.06,"x2":17.24,"y":0,"y2":15.32,"v":-80},{"x":17.64,"x2":17.82,"y":0,"y2":15.32,"v":-80},{"x":17.93,"x2":18.11,"y":0,"y2":15.32,"v":-66},{"x":18.21,"x2":18.39,"y":0,"y2":15.32,"v":-80},{"x":18.95,"x2":19.13,"y":0,"y2":15.32,"v":-80},
{"x":9.25,"x2":9.6,"y":0,"y2":15.32,"v":-45},{"x":9.6,"x2":9.8,"y":0,"y2":15.32,"v":-37},{"x":9.8,"x2":10.2,"y":0,"y2":15.32,"v":-27},{"x":10.2,"x2":10.4,"y":0,"y2":15.32,"v":-38},{"x":19.9,"x2":20.25,"y":0,"y2":15.32,"v":-61},{"x":39.9,"x2":40.2,"y":0,"y2":15.32,"v":-76},{"x":12,"x2":30,"y":0,"y2":0.2,"v":-66},{"x":30,"x2":50,"y":0,"y2":0.2,"v":-74},
{"x":1.41,"x2":1.61,"y":0.68,"y2":1.18,"v":-80},{"x":0.83,"x2":1.03,"y":2.86,"y2":3.36,"v":-80},{"x":2.36,"x2":2.56,"y":3.26,"y2":3.76,"v":-80},{"x":5.12,"x2":5.32,"y":2.22,"y2":2.72,"v":-82},{"x":5.88,"x2":6.08,"y":2.76,"y2":3.26,"v":-80},{"x":4.9,"x2":5.1,"y":4.35,"y2":4.85,"v":-84},{"x":5.53,"x2":5.73,"y":4.35,"y2":4.85,"v":-84},{"x":2.97,"x2":3.17,"y":4.99,"y2":5.49,"v":-82},{"x":7.96,"x2":8.16,"y":4.25,"y2":4.75,"v":-84},{"x":5.12,"x2":5.32,"y":5.63,"y2":6.13,"v":-82},{"x":4.54,"x2":4.74,"y":5.98,"y2":6.48,"v":-82},{"x":6.87,"x2":7.07,"y":5.88,"y2":6.38,"v":-80},{"x":7.45,"x2":7.65,"y":6.48,"y2":6.98,"v":-82},{"x":2.21,"x2":2.41,"y":6.43,"y2":6.93,"v":-82},{"x":1.05,"x2":1.25,"y":6.23,"y2":6.73,"v":-80},{"x":9.19,"x2":9.39,"y":6.82,"y2":7.32,"v":-76},{"x":8.61,"x2":8.81,"y":6.13,"y2":6.63,"v":-76},{"x":13.09,"x2":13.29,"y":7.42,"y2":7.92,"v":-84},{"x":11.38,"x2":11.58,"y":4.15,"y2":4.65,"v":-84},{"x":13.85,"x2":14.05,"y":4.84,"y2":5.34,"v":-84},{"x":12.69,"x2":12.89,"y":5.04,"y2":5.54,"v":-82},{"x":12.1,"x2":12.3,"y":1.67,"y2":2.17,"v":-82},{"x":7.01,"x2":7.21,"y":1.58,"y2":2.08,"v":-82},{"x":5,"x2":5.2,"y":8.21,"y2":8.71,"v":-86},{"x":5.88,"x2":6.08,"y":8.21,"y2":8.71,"v":-84},{"x":2.36,"x2":2.56,"y":8.01,"y2":8.51,"v":-84},{"x":2.97,"x2":3.17,"y":8.6,"y2":9.1,"v":-82},{"x":7.01,"x2":7.21,"y":8.9,"y2":9.4,"v":-84},{"x":10.58,"x2":10.78,"y":8.9,"y2":9.3,"v":-82},{"x":12.13,"x2":12.33,"y":9.5,"y2":10,"v":-86},{"x":11.52,"x2":11.72,"y":9.69,"y2":10.19,"v":-84},{"x":12.9,"x2":13.1,"y":9.79,"y2":10.29,"v":-84},{"x":15.23,"x2":15.43,"y":9.4,"y2":10.4,"v":-86},{"x":6.69,"x2":6.89,"y":10.19,"y2":10.69,"v":-84},{"x":1.02,"x2":1.22,"y":12.61,"y2":13.11,"v":-86},{"x":2.21,"x2":2.41,"y":12.27,"y2":12.77,"v":-86},{"x":4.68,"x2":4.88,"y":12.61,"y2":13.11,"v":-90},{"x":5.41,"x2":5.61,"y":12.56,"y2":13.06,"v":-90},{"x":3.93,"x2":4.13,"y":13.06,"y2":13.56,"v":-86},{"x":6.5,"x2":6.7,"y":12.96,"y2":13.46,"v":-84},{"x":6.69,"x2":6.89,"y":13.85,"y2":14.35,"v":-86},{"x":7.45,"x2":7.65,"y":13.16,"y2":13.66,"v":-82},{"x":1.02,"x2":1.22,"y":13.45,"y2":13.95,"v":-84},{"x":13.2,"x2":13.4,"y":14.74,"y2":15.32,"v":-94},{"x":8.06,"x2":8.26,"y":7.61,"y2":8.11,"v":-80},{"x":15.81,"x2":16.01,"y":6,"y2":7,"v":-88},{"x":18.94,"x2":19.14,"y":7.32,"y2":7.82,"v":-92},{"x":18.14,"x2":18.34,"y":8.4,"y2":9.4,"v":-92},{"x":16.98,"x2":17.18,"y":5.4,"y2":6.4,"v":-90},{"x":16.03,"x2":16.23,"y":12.2,"y2":13,"v":-92},{"x":17.2,"x2":17.4,"y":12.9,"y2":13.7,"v":-92},{"x":14.14,"x2":14.34,"y":14.05,"y2":14.55,"v":-90},{"x":20.76,"x2":20.96,"y":14.6,"y2":15.32,"v":-96},{"x":19.38,"x2":19.58,"y":11.9,"y2":12.6,"v":-92},{"x":21.27,"x2":21.47,"y":9.6,"y2":10.1,"v":-94}],
"bar":[{"v":-100,"v2":-99},{"v":-99,"v2":-98},{"v":-98,"v2":-97},{"v":-97,"v2":-96},{"v":-96,"v2":-95},{"v":-95,"v2":-94},{"v":-94,"v2":-93},{"v":-93,"v2":-92},{"v":-92,"v2":-91},{"v":-91,"v2":-90},{"v":-90,"v2":-89},{"v":-89,"v2":-88},{"v":-88,"v2":-87},{"v":-87,"v2":-86},{"v":-86,"v2":-85},{"v":-85,"v2":-84},{"v":-84,"v2":-83},{"v":-83,"v2":-82},{"v":-82,"v2":-81},{"v":-81,"v2":-80},{"v":-80,"v2":-79},{"v":-79,"v2":-78},{"v":-78,"v2":-77},{"v":-77,"v2":-76},{"v":-76,"v2":-75},{"v":-75,"v2":-74},{"v":-74,"v2":-73},{"v":-73,"v2":-72},{"v":-72,"v2":-71},{"v":-71,"v2":-70},{"v":-70,"v2":-69},{"v":-69,"v2":-68},{"v":-68,"v2":-67},{"v":-67,"v2":-66},{"v":-66,"v2":-65},{"v":-65,"v2":-64},{"v":-64,"v2":-63},{"v":-63,"v2":-62},{"v":-62,"v2":-61},{"v":-61,"v2":-60},{"v":-60,"v2":-59},{"v":-59,"v2":-58},{"v":-58,"v2":-57},{"v":-57,"v2":-56},{"v":-56,"v2":-55},{"v":-55,"v2":-54},{"v":-54,"v2":-53},{"v":-53,"v2":-52},{"v":-52,"v2":-51},{"v":-51,"v2":-50},{"v":-50,"v2":-49},{"v":-49,"v2":-48},{"v":-48,"v2":-47},{"v":-47,"v2":-46},{"v":-46,"v2":-45},{"v":-45,"v2":-44},{"v":-44,"v2":-43},{"v":-43,"v2":-42},{"v":-42,"v2":-41},{"v":-41,"v2":-40},{"v":-40,"v2":-39},{"v":-39,"v2":-38},{"v":-38,"v2":-37},{"v":-37,"v2":-36},{"v":-36,"v2":-35},{"v":-35,"v2":-34},{"v":-34,"v2":-33},{"v":-33,"v2":-32},{"v":-32,"v2":-31},{"v":-31,"v2":-30},{"v":-30,"v2":-29},{"v":-29,"v2":-28},{"v":-28,"v2":-27},{"v":-27,"v2":-26},{"v":-26,"v2":-25},{"v":-25,"v2":-24},{"v":-24,"v2":-23},{"v":-23,"v2":-22},{"v":-22,"v2":-21},{"v":-21,"v2":-20},{"v":-20,"v2":-19},{"v":-19,"v2":-18},{"v":-18,"v2":-17},{"v":-17,"v2":-16},{"v":-16,"v2":-15},{"v":-15,"v2":-14},{"v":-14,"v2":-13},{"v":-13,"v2":-12},{"v":-12,"v2":-11},{"v":-11,"v2":-10},{"v":-10,"v2":-9},{"v":-9,"v2":-8},{"v":-8,"v2":-7},{"v":-7,"v2":-6},{"v":-6,"v2":-5},{"v":-5,"v2":-4},{"v":-4,"v2":-3},{"v":-3,"v2":-2},{"v":-2,"v2":-1},{"v":-1,"v2":0}],
"fitness":[{"x":1,"y":7.52},{"x":2,"y":10.67},{"x":3,"y":10.67},{"x":4,"y":10.67},{"x":5,"y":10.67},{"x":6,"y":10.67},{"x":7,"y":10.67},{"x":8,"y":10.67},{"x":9,"y":10.67},{"x":10,"y":10.67}],
"noisy":[{"x":0,"y":-18.5},{"x":0.2,"y":-16},{"x":0.5,"y":-14},{"x":0.7,"y":-11.5},{"x":0.9,"y":-11.7},{"x":1.1,"y":-14},{"x":1.3,"y":-15.8},{"x":1.5,"y":-14.5},{"x":1.7,"y":-15.5},{"x":1.9,"y":-13},{"x":2.1,"y":-14.3},{"x":2.3,"y":-13},{"x":2.5,"y":-16},{"x":2.7,"y":-13},{"x":2.9,"y":-12.5},{"x":3.1,"y":-13.5},{"x":3.3,"y":-14},{"x":3.5,"y":-13.3},{"x":3.8,"y":-14},{"x":4,"y":-15},{"x":4.3,"y":-15},{"x":4.5,"y":-15},{"x":4.9,"y":-16},{"x":5.2,"y":-16.7},{"x":5.5,"y":-13.5},{"x":5.7,"y":-15},{"x":6,"y":-16.2},{"x":6.3,"y":-14.5},{"x":6.5,"y":-14.5},{"x":6.8,"y":-11.7},{"x":7,"y":-13},{"x":7.3,"y":-17.5},{"x":7.5,"y":-18},{"x":7.8,"y":-16},{"x":8,"y":-15},{"x":8.2,"y":-15.5},{"x":8.4,"y":-13},{"x":8.6,"y":-15},{"x":8.8,"y":-13.5},{"x":9.1,"y":-14.5},{"x":9.4,"y":-16.5},{"x":9.6,"y":-14},{"x":9.8,"y":-12},{"x":10,"y":-10},{"x":10.2,"y":-12.3},{"x":10.4,"y":-12},{"x":10.7,"y":-13},{"x":11,"y":-11.5},{"x":11.2,"y":-19},{"x":11.5,"y":-18.7},{"x":11.8,"y":-15},{"x":12,"y":-14},{"x":12.4,"y":-13.5},{"x":13,"y":-11},{"x":13.3,"y":-15},{"x":13.7,"y":-16.5},{"x":14,"y":-14},{"x":14.3,"y":-13},{"x":14.6,"y":-14},{"x":14.9,"y":-13},{"x":15.2,"y":-14},{"x":15.5,"y":-15},{"x":15.8,"y":-14.7},{"x":16,"y":-18.7},{"x":16.2,"y":-13.5},{"x":16.5,"y":-19},{"x":16.8,"y":-15},{"x":17.2,"y":-14.8},{"x":17.6,"y":-15.5},{"x":17.8,"y":-11.7},{"x":18.1,"y":-15.7},{"x":18.4,"y":-13.3},{"x":18.8,"y":-13},{"x":19.2,"y":-12},{"x":19.6,"y":-11},{"x":19.75,"y":-8},{"x":20,"y":0},{"x":20.15,"y":-3},{"x":20.3,"y":-10},{"x":20.5,"y":-14.3},{"x":20.7,"y":-11},{"x":20.9,"y":-9},{"x":21.1,"y":-11},{"x":21.3,"y":-15.8},{"x":21.6,"y":-16},{"x":22,"y":-15},{"x":22.3,"y":-13},{"x":22.5,"y":-11.5},{"x":22.9,"y":-17.5},{"x":23.1,"y":-16},{"x":23.3,"y":-18},{"x":23.7,"y":-19.5},{"x":24,"y":-17},{"x":24.3,"y":-18},{"x":24.6,"y":-13},{"x":24.9,"y":-17},{"x":25.3,"y":-13},{"x":25.6,"y":-14},{"x":25.9,"y":-15},{"x":26.1,"y":-16.5},{"x":26.4,"y":-13.5},{"x":26.8,"y":-13.5},{"x":27,"y":-13},{"x":27.3,"y":-17.5},{"x":27.7,"y":-17.7},{"x":27.9,"y":-14},{"x":28.3,"y":-20.5},{"x":28.5,"y":-15},{"x":28.8,"y":-13.5},{"x":29.1,"y":-15},{"x":29.4,"y":-19},{"x":29.7,"y":-17},{"x":30.1,"y":-14},{"x":30.4,"y":-12},{"x":30.7,"y":-18},{"x":31,"y":-17},{"x":31.3,"y":-15},{"x":31.6,"y":-14},{"x":31.9,"y":-13.5},{"x":32,"y":-16},{"x":32.4,"y":-13},{"x":32.8,"y":-11.5},{"x":33.1,"y":-13},{"x":33.4,"y":-11},{"x":33.6,"y":-10.2},{"x":33.9,"y":-14.5},{"x":34.2,"y":-14.7},{"x":34.4,"y":-14},{"x":34.7,"y":-14.5},{"x":35,"y":-15},{"x":35.3,"y":-15.5},{"x":35.6,"y":-13},{"x":35.9,"y":-13.7},{"x":36.3,"y":-13.2},{"x":36.7,"y":-14.5},{"x":37,"y":-11.5},{"x":37.4,"y":-13.5},{"x":37.7,"y":-14},{"x":38,"y":-12.5},{"x":38.3,"y":-16.2},{"x":38.6,"y":-16},{"x":38.9,"y":-14},{"x":39.2,"y":-14.5},{"x":39.5,"y":-12},{"x":39.8,"y":-15.5},{"x":40,"y":-3},{"x":40.05,"y":0},{"x":40.2,"y":-3},{"x":40.5,"y":-11},{"x":40.7,"y":-14},{"x":41,"y":-11},{"x":41.2,"y":-14},{"x":41.5,"y":-15},{"x":41.7,"y":-13},{"x":42.1,"y":-13.3},{"x":42.5,"y":-11.5},{"x":42.9,"y":-15.5},{"x":43.3,"y":-20},{"x":43.5,"y":-15},{"x":43.9,"y":-16},{"x":44.3,"y":-16},{"x":44.7,"y":-14},{"x":45,"y":-16},{"x":45.3,"y":-14},{"x":45.5,"y":-10.5},{"x":45.8,"y":-17},{"x":46.1,"y":-16},{"x":46.5,"y":-16},{"x":47,"y":-20},{"x":47.4,"y":-14},{"x":47.8,"y":-13.5},{"x":48.2,"y":-14.5},{"x":48.6,"y":-14.5},{"x":48.9,"y":-16},{"x":49.2,"y":-11.8},{"x":49.5,"y":-13},{"x":49.7,"y":-17.5},{"x":49.85,"y":-13},{"x":50,"y":-14.5}],
"aimsr":[{"x":0,"y":-28.5},{"x":0.15,"y":-33},{"x":0.4,"y":-32},{"x":0.6,"y":-36},{"x":0.8,"y":-39.5},{"x":1,"y":-39},{"x":1.2,"y":-43.5},{"x":1.4,"y":-38.5},{"x":1.6,"y":-41.5},{"x":1.8,"y":-41},{"x":2,"y":-39},{"x":2.2,"y":-41},{"x":2.4,"y":-42.5},{"x":2.6,"y":-40},{"x":2.8,"y":-41.5},{"x":3,"y":-42},{"x":3.3,"y":-42},{"x":3.4,"y":-42.5},{"x":3.7,"y":-42},{"x":3.8,"y":-41.5},{"x":4,"y":-42.3},{"x":4.2,"y":-42},{"x":4.4,"y":-41.3},{"x":4.6,"y":-41},{"x":4.9,"y":-44.5},{"x":5,"y":-44},{"x":5.1,"y":-43.3},{"x":5.3,"y":-44},{"x":5.5,"y":-39.5},{"x":5.7,"y":-40.5},{"x":5.9,"y":-42},{"x":6.1,"y":-40},{"x":6.3,"y":-38.5},{"x":6.5,"y":-39.5},{"x":6.7,"y":-37.5},{"x":6.9,"y":-37},{"x":7,"y":-37.5},{"x":7.3,"y":-39.3},{"x":7.7,"y":-39},{"x":7.9,"y":-35.5},{"x":8.1,"y":-35.3},{"x":8.2,"y":-32},{"x":8.3,"y":-34},{"x":8.5,"y":-35},{"x":8.7,"y":-32.5},{"x":9,"y":-32},{"x":9.2,"y":-31},{"x":9.4,"y":-29.5},{"x":9.5,"y":-25},{"x":9.7,"y":-15},{"x":9.85,"y":-5},{"x":10,"y":0},{"x":10.1,"y":-5},{"x":10.3,"y":-20},{"x":10.5,"y":-26.5},{"x":10.7,"y":-27.5},{"x":11,"y":-29.5},{"x":11.2,"y":-36},{"x":11.45,"y":-40.5},{"x":11.8,"y":-36.5},{"x":12,"y":-38},{"x":12.2,"y":-39},{"x":12.6,"y":-38.7},{"x":12.9,"y":-37.7},{"x":13.1,"y":-38.5},{"x":13.4,"y":-43},{"x":13.7,"y":-46},{"x":14,"y":-46.5},{"x":14.2,"y":-45},{"x":14.4,"y":-45},{"x":14.6,"y":-47},{"x":14.8,"y":-46.7},{"x":15,"y":-47.3},{"x":15.4,"y":-47.5},{"x":15.6,"y":-47},{"x":15.8,"y":-48.5},{"x":16,"y":-49},{"x":16.2,"y":-53},{"x":16.5,"y":-50.5},{"x":16.7,"y":-49.5},{"x":16.9,"y":-50},{"x":17.1,"y":-52.8},{"x":17.3,"y":-50.8},{"x":17.5,"y":-53},{"x":17.8,"y":-50},{"x":18,"y":-50.5},{"x":18.2,"y":-48.8},{"x":18.4,"y":-48.5},{"x":18.6,"y":-54},{"x":18.8,"y":-50},{"x":19,"y":-49.7},{"x":19.2,"y":-50},{"x":19.4,"y":-48.5},{"x":19.6,"y":-43},{"x":19.8,"y":-38},{"x":19.95,"y":-30},{"x":20.15,"y":-35},{"x":20.4,"y":-42},{"x":20.6,"y":-50},{"x":20.8,"y":-52},{"x":21,"y":-50},{"x":21.1,"y":-51},{"x":21.3,"y":-56.5},{"x":21.5,"y":-54.5},{"x":21.7,"y":-55},{"x":21.9,"y":-57},{"x":22.1,"y":-59.5},{"x":22.3,"y":-58.5},{"x":22.5,"y":-54},{"x":22.7,"y":-54.5},{"x":22.9,"y":-58.7},{"x":23.2,"y":-60.5},{"x":23.4,"y":-58.5},{"x":23.6,"y":-60},{"x":23.8,"y":-63},{"x":24,"y":-61},{"x":24.2,"y":-63},{"x":24.4,"y":-62},{"x":24.6,"y":-58.5},{"x":24.8,"y":-61},{"x":25,"y":-62.5},{"x":25.2,"y":-59},{"x":25.4,"y":-59},{"x":25.7,"y":-59.5},{"x":25.9,"y":-60},{"x":26.1,"y":-63.2},{"x":26.3,"y":-61.5},{"x":26.5,"y":-60},{"x":26.8,"y":-61},{"x":27,"y":-60.5},{"x":27.2,"y":-64},{"x":27.5,"y":-65},{"x":27.7,"y":-66},{"x":27.9,"y":-62},{"x":28.3,"y":-68},{"x":28.5,"y":-64},{"x":28.8,"y":-62.5},{"x":29.1,"y":-62.8},{"x":29.3,"y":-64.5},{"x":29.7,"y":-61},{"x":29.9,"y":-59},{"x":30,"y":-58.5},{"x":30.3,"y":-62.5},{"x":30.5,"y":-64},{"x":30.7,"y":-67},{"x":31,"y":-65.5},{"x":31.3,"y":-65.5},{"x":31.5,"y":-65.5},{"x":31.8,"y":-64.5},{"x":32,"y":-62.7},{"x":32.2,"y":-66.5},{"x":32.5,"y":-64.5},{"x":32.8,"y":-63},{"x":33,"y":-64},{"x":33.2,"y":-65.7},{"x":33.5,"y":-62},{"x":33.7,"y":-64.5},{"x":33.9,"y":-67},{"x":34.1,"y":-67.5},{"x":34.4,"y":-66},{"x":34.6,"y":-67.5},{"x":34.9,"y":-66.5},{"x":35.1,"y":-68.5},{"x":35.3,"y":-66.3},{"x":35.6,"y":-66.5},{"x":35.8,"y":-66},{"x":36.1,"y":-66.7},{"x":36.4,"y":-68},{"x":36.8,"y":-66},{"x":37.1,"y":-67.3},{"x":37.4,"y":-67.5},{"x":37.7,"y":-67},{"x":38,"y":-66.7},{"x":38.2,"y":-68},{"x":38.4,"y":-70.2},{"x":38.7,"y":-70},{"x":38.9,"y":-67.5},{"x":39.1,"y":-68.3},{"x":39.4,"y":-68},{"x":39.6,"y":-66.5},{"x":39.8,"y":-67.5},{"x":40,"y":-58},{"x":40.05,"y":-57},{"x":40.2,"y":-60},{"x":40.4,"y":-66},{"x":40.6,"y":-68.5},{"x":40.8,"y":-69.5},{"x":41,"y":-67.5},{"x":41.2,"y":-69.5},{"x":41.5,"y":-69.5},{"x":41.7,"y":-70.3},{"x":41.9,"y":-70.5},{"x":42.1,"y":-69},{"x":42.4,"y":-70},{"x":42.7,"y":-69.5},{"x":42.9,"y":-68},{"x":43.2,"y":-71},{"x":43.6,"y":-73},{"x":43.9,"y":-71},{"x":44.2,"y":-71},{"x":44.5,"y":-70},{"x":44.8,"y":-70.5},{"x":45,"y":-70},{"x":45.3,"y":-72},{"x":45.6,"y":-71.5},{"x":45.9,"y":-69},{"x":46.2,"y":-72},{"x":46.4,"y":-71.5},{"x":46.7,"y":-72},{"x":47,"y":-72.5},{"x":47.3,"y":-74.5},{"x":47.7,"y":-71.5},{"x":48,"y":-70.3},{"x":48.2,"y":-71},{"x":48.5,"y":-70.5},{"x":48.7,"y":-71.5},{"x":49,"y":-72},{"x":49.3,"y":-71.5},{"x":49.6,"y":-69},{"x":49.9,"y":-71.5},{"x":49.95,"y":-70.5},{"x":50,"y":-73.5}],
"gridE":[{"x":2,"y":7,"x2":2,"y2":11},{"x":3,"y":7,"x2":3,"y2":11},{"x":4,"y":7,"x2":4,"y2":11},{"x":5,"y":7,"x2":5,"y2":11},{"x":6,"y":7,"x2":6,"y2":11},{"x":7,"y":7,"x2":7,"y2":11},{"x":8,"y":7,"x2":8,"y2":11},{"x":9,"y":7,"x2":9,"y2":11},{"x":1,"y":8,"x2":10,"y2":8},{"x":1,"y":9,"x2":10,"y2":9},{"x":1,"y":10,"x2":10,"y2":10}],
"gridF":[{"x":10,"y":-80,"x2":10,"y2":0},{"x":20,"y":-80,"x2":20,"y2":0},{"x":30,"y":-80,"x2":30,"y2":0},{"x":40,"y":-80,"x2":40,"y2":0},{"x":0,"y":-20,"x2":50,"y2":-20},{"x":0,"y":-40,"x2":50,"y2":-40},{"x":0,"y":-60,"x2":50,"y2":-60}],
"boxes":[{"x":1.13,"x2":20.14,"y":14.32,"y2":19.76,"kind":"stable"},{"x":4.93,"x2":10.19,"y":14.77,"y2":19.05,"kind":"zoom"}],
"arrowsC":[{"x":5.2,"y":19.63,"x2":5.61,"y2":20.78,"a":209},{"x":8.12,"y":11.98,"x2":7.64,"y2":14.69,"a":165}],
"notesC":[{"x":5.68,"y":21.7,"label":"stable response"}],
"arrowsD":[{"x":0.58,"y":1.84,"x2":2.04,"y2":1.14,"a":214,"s":"primary"},{"x":10.78,"y":3.74,"x2":14.27,"y2":3.18,"a":243,"s":"primary"},{"x":21.17,"y":3.71,"x2":24.37,"y2":3.04,"a":237,"s":"harmonic"},{"x":41.07,"y":3.49,"x2":44.27,"y2":2.98,"a":244,"s":"harmonic"}],
"notesD":[{"x":7.28,"y":0.63,"label":"DC bias","s":"primary"},{"x":15.05,"y":2.98,"label":"f","s":"primary"},{"x":16,"y":3.42,"label":"0","s":"primary"},{"x":25.5,"y":2.91,"label":"2f","s":"harmonic"},{"x":27.4,"y":3.49,"label":"0","s":"harmonic"},{"x":45.4,"y":2.69,"label":"4f","s":"harmonic"},{"x":47.3,"y":3.27,"label":"0","s":"harmonic"}],
"arrowsF":[{"x":10.27,"y":-0.33,"x2":12.14,"y2":-2.83,"a":304,"s":"AIMSR"},{"x":20.12,"y":-0.33,"x2":21.99,"y2":-2.66,"a":304,"s":"Noisy signal"},{"x":40.32,"y":-0.33,"x2":42.36,"y2":-2.66,"a":304,"s":"Noisy signal"},{"x":20.12,"y":-29.6,"x2":22.75,"y2":-32.1,"a":296,"s":"AIMSR"},{"x":40.2,"y":-56.7,"x2":42.6,"y2":-54.2,"a":242,"s":"AIMSR"}],
"notesF":[{"x":13.24,"y":-5.66,"label":"f","s":"AIMSR"},{"x":14.26,"y":-8.3,"label":"0","s":"AIMSR"},{"x":23.6,"y":-5.5,"label":"2f","s":"Noisy signal"},{"x":25.3,"y":-8.4,"label":"0","s":"Noisy signal"},{"x":43.6,"y":-5.5,"label":"4f","s":"Noisy signal"},{"x":45.3,"y":-8.4,"label":"0","s":"Noisy signal"},{"x":24.1,"y":-31.4,"label":"2f","s":"AIMSR"},{"x":25.8,"y":-34.2,"label":"0","s":"AIMSR"},{"x":43.7,"y":-53.2,"label":"4f","s":"AIMSR"},{"x":45.4,"y":-56.1,"label":"0","s":"AIMSR"}]
},
"resolve":{"scale":{"x":"independent","y":"independent","color":"independent","stroke":"independent","strokeDash":"independent"}},
"layer":[
{"resolve":{"axis":{"x":"independent","y":"independent"}},
"encoding":{"x":{"field":"x","type":"quantitative","scale":{"domain":[0,20.28],"range":[221,1527],"nice":false,"zero":false},"axis":null},"y":{"field":"y","type":"quantitative","scale":{"domain":[0,25],"range":[1167,104],"nice":false,"zero":false},"axis":null}},
"layer":[
{"data":{"name":"signal"},"mark":{"type":"area","strokeWidth":3,"stroke":"#000"},
"encoding":{"x":{"field":"x","type":"quantitative","title":"Time (s)","scale":{"domain":[0,20.28],"range":[221,1527],"nice":false,"zero":false},"axis":{"orient":"bottom","offset":-1806,"values":[0,5,10,15,20],"labelExpr":"''+datum.value"}},
"y":{"field":"hi","type":"quantitative","title":"Amplitude (V)","scale":{"domain":[0,25],"range":[1167,104],"nice":false,"zero":false},"axis":{"orient":"left","offset":-221,"values":[0,5,10,15,20,25],"labelExpr":"''+datum.value"}},
"y2":{"field":"lo"},
"color":{"datum":"AIMSR output","type":"nominal","scale":{"domain":["AIMSR output"],"range":["#000"]},"legend":{"orient":"none","legendX":1003,"legendY":144,"title":null,"symbolType":"M-2,0H2","symbolStrokeColor":"#000","symbolStrokeWidth":6.5,"symbolSize":3600,"symbolOffset":30,"labelOffset":30,"labelLimit":800,"labelFont":"Liberation Sans","labelFontWeight":"bold","labelFontSize":52,"labelColor":"#000","strokeColor":"#262626","fillColor":"#fff","padding":16}}}},
{"data":{"name":"boxes"},"transform":[{"filter":"datum.kind=='stable'"}],"mark":{"type":"rect","fillOpacity":0,"stroke":"#f00","strokeWidth":7,"strokeDash":[26,24]},"encoding":{"x2":{"field":"x2"},"y2":{"field":"y2"}}},
{"data":{"name":"boxes"},"transform":[{"filter":"datum.kind=='zoom'"}],"mark":{"type":"rect","fillOpacity":0,"stroke":"#000","strokeWidth":3.5},"encoding":{"x2":{"field":"x2"},"y2":{"field":"y2"}}},
{"data":{"name":"arrowsC"},"mark":{"type":"rule","color":"#000","strokeWidth":5},"encoding":{"x2":{"field":"x2"},"y2":{"field":"y2"}}},
{"data":{"name":"arrowsC"},"mark":{"type":"point","shape":"M0,0L0.7,2L0,1.5L-0.7,2Z","filled":true,"color":"#000","opacity":1,"size":1600},"encoding":{"angle":{"field":"a","type":"quantitative","scale":null}}},
{"data":{"name":"notesC"},"mark":{"type":"text","font":"Liberation Sans","fontWeight":"bold","fontSize":56,"color":"#000","align":"center","baseline":"middle"},"encoding":{"text":{"field":"label"}}},
{"data":{"values":[{"x":9.67,"y":-6.04,"label":"(c)"}]},"mark":{"type":"text","font":"Liberation Serif","fontSize":72,"color":"#000","align":"center","baseline":"middle"},
"encoding":{"text":{"field":"label"},"x":{"field":"x","type":"quantitative","title":null,"scale":{"domain":[0,20.28],"range":[221,1527],"nice":false,"zero":false},"axis":{"orient":"top","offset":-104,"values":[0,5,10,15,20],"labels":false}},
"y":{"field":"y","type":"quantitative","title":null,"scale":{"domain":[0,25],"range":[1167,104],"nice":false,"zero":false},"axis":{"orient":"right","offset":-1942,"values":[0,5,10,15,20,25],"labels":false}}}}
]},
{"resolve":{"axis":{"x":"independent","y":"independent"}},
"data":{"name":"inset"},
"layer":[
{"mark":{"type":"line","color":"#000","strokeWidth":6.5,"interpolate":"monotone"},
"encoding":{"x":{"field":"x","type":"quantitative","title":"Time (s)","scale":{"domain":[5,10],"range":[436,1457],"nice":false,"zero":false},"axis":{"orient":"bottom","offset":-1983.5,"values":[5,6,7,8,9,10],"labelExpr":"''+datum.value","labelFontSize":52,"titleFontSize":56,"titlePadding":18,"labelPadding":45}},
"y":{"field":"y","type":"quantitative","title":"Amplitude (V)","scale":{"domain":[-1.5,1.5],"range":[989.5,668.5],"nice":false,"zero":false},"axis":{"orient":"left","offset":-436,"values":[-1.5,0,1.5],"labelExpr":"''+datum.value","labelFontSize":52,"titleFontSize":57,"titlePadding":7,"labelPadding":35}}}},
{"mark":{"type":"point","opacity":0},
"encoding":{"x":{"field":"x","type":"quantitative","title":null,"scale":{"domain":[5,10],"range":[436,1457],"nice":false,"zero":false},"axis":{"orient":"top","offset":-668.5,"values":[5,6,7,8,9,10],"labels":false}},
"y":{"field":"y","type":"quantitative","title":null,"scale":{"domain":[-1.5,1.5],"range":[989.5,668.5],"nice":false,"zero":false},"axis":{"orient":"right","offset":-2012,"values":[-1.5,0,1.5],"labels":false}}}}
]},
{"resolve":{"axis":{"x":"independent","y":"independent"}},
"encoding":{"x":{"field":"x","type":"quantitative","scale":{"domain":[0,50],"range":[1977,3117],"nice":false,"zero":false},"axis":null},"y":{"field":"y","type":"quantitative","scale":{"domain":[0,15.32],"range":[104,1173],"nice":false,"zero":false},"axis":null}},
"layer":[
{"data":{"name":"heat"},"mark":{"type":"rect","strokeWidth":1},
"encoding":{"x":{"field":"f","type":"quantitative","bin":{"binned":true,"step":0.5},"title":"Frequency(Hz)","scale":{"domain":[0,50],"range":[1977,3117],"nice":false,"zero":false},"axis":{"orient":"bottom","offset":-1800,"values":[0,10,20,30,40,50],"labelExpr":"''+datum.value","domain":false,"ticks":false,"labelPadding":36}},
"y":{"field":"t","type":"quantitative","title":"Time (s)","scale":{"domain":[0,15.32],"range":[104,1173],"nice":false,"zero":false},"axis":{"orient":"left","offset":-1977,"values":[0,5,10,15],"labelExpr":"''+datum.value","domain":false,"ticks":false,"titlePadding":10,"labelPadding":22}},
"y2":{"field":"t2"},
"color":{"field":"v","type":"quantitative","scale":{"domain":[-100,-87.5,-62.5,-37.5,-12.5,0],"range":["#00007f","#0000ff","#00ffff","#ffff00","#ff0000","#7f0000"]},"legend":null},
"stroke":{"field":"v","type":"quantitative","scale":{"domain":[-100,-87.5,-62.5,-37.5,-12.5,0],"range":["#00007f","#0000ff","#00ffff","#ffff00","#ff0000","#7f0000"]},"legend":null}}},
{"data":{"name":"detail"},"mark":{"type":"rect"},"encoding":{"x2":{"field":"x2"},"y2":{"field":"y2"},"color":{"field":"v","type":"quantitative","scale":{"domain":[-100,-87.5,-62.5,-37.5,-12.5,0],"range":["#00007f","#0000ff","#00ffff","#ffff00","#ff0000","#7f0000"]},"legend":null}}},
{"data":{"name":"arrowsD"},"mark":{"type":"rule","strokeWidth":5},"encoding":{"x2":{"field":"x2"},"y2":{"field":"y2"},"color":{"field":"s","type":"nominal","scale":{"domain":["primary","harmonic"],"range":["#000","#ffff00"]},"legend":null}}},
{"data":{"name":"arrowsD"},"mark":{"type":"point","shape":"M0,0L0.7,2L0,1.5L-0.7,2Z","filled":true,"opacity":1,"size":1600},"encoding":{"angle":{"field":"a","type":"quantitative","scale":null},"color":{"field":"s","type":"nominal","scale":{"domain":["primary","harmonic"],"range":["#000","#ffff00"]},"legend":null}}},
{"data":{"name":"notesD"},"mark":{"type":"text","font":"Liberation Sans","fontWeight":"bold","fontSize":56,"align":"center","baseline":"middle"},"encoding":{"text":{"field":"label"},"color":{"field":"s","type":"nominal","scale":{"domain":["primary","harmonic"],"range":["#000","#ffff00"]},"legend":null}}},
{"data":{"values":[{"x":28.35,"y":18.9,"label":"(d)"}]},"mark":{"type":"text","font":"Liberation Serif","fontSize":72,"color":"#000","align":"center","baseline":"middle"},"encoding":{"text":{"field":"label"}}}
]},
{"resolve":{"axis":{"y":"independent"}},"data":{"name":"bar"},
"encoding":{"x":{"datum":0,"type":"quantitative","scale":{"domain":[0,1],"range":[3181,3245],"nice":false,"zero":false},"axis":null},"x2":{"datum":1}},
"layer":[
{"mark":{"type":"rect","strokeWidth":1},
"encoding":{"y":{"field":"v","type":"quantitative","title":"(dB)","scale":{"domain":[-100,0],"range":[1167,102],"nice":false,"zero":false},"axis":{"orient":"right","offset":-224,"values":[-100,-80,-60,-40,-20,0],"labelExpr":"''+datum.value","domain":false,"tickSize":-8,"titleFontSize":52,"titleAngle":270,"titlePadding":57,"labelPadding":26}},"y2":{"field":"v2"},
"color":{"field":"v","type":"quantitative","scale":{"domain":[-100,-87.5,-62.5,-37.5,-12.5,0],"range":["#00007f","#0000ff","#00ffff","#ffff00","#ff0000","#7f0000"]},"legend":null},
"stroke":{"field":"v","type":"quantitative","scale":{"domain":[-100,-87.5,-62.5,-37.5,-12.5,0],"range":["#00007f","#0000ff","#00ffff","#ffff00","#ff0000","#7f0000"]},"legend":null}}}
]},
{"resolve":{"axis":{"x":"independent","y":"independent"}},
"encoding":{"x":{"field":"x","type":"quantitative","scale":{"domain":[1,10],"range":[270,1525],"nice":false,"zero":false},"axis":null},"y":{"field":"y","type":"quantitative","scale":{"domain":[7,11],"range":[2636,1574],"nice":false,"zero":false},"axis":null}},
"layer":[
{"data":{"name":"gridE"},"mark":{"type":"rule","color":"#dfdfdf","strokeWidth":2.5},"encoding":{"x2":{"field":"x2"},"y2":{"field":"y2"}}},
{"data":{"name":"fitness"},"mark":{"type":"line","strokeWidth":7.5,"strokeDash":[22,8,7,8]},
"encoding":{"x":{"field":"x","type":"quantitative","title":"Iteration","scale":{"domain":[1,10],"range":[270,1525],"nice":false,"zero":false},"axis":{"orient":"bottom","offset":-337,"values":[1,2,3,4,5,6,7,8,9,10],"labelExpr":"''+datum.value"}},
"y":{"field":"y","type":"quantitative","title":"SNRI (dB)","scale":{"domain":[7,11],"range":[2636,1574],"nice":false,"zero":false},"axis":{"orient":"left","offset":-270,"values":[7,8,9,10,11],"labelExpr":"''+datum.value","titlePadding":74,"titleY":2045}},
"color":{"datum":"Optimal fitness","type":"nominal","scale":{"domain":["Optimal fitness"],"range":["#000"]},"legend":{"orient":"none","legendX":952,"legendY":1831,"title":null,"symbolType":"M-1.03,0H-.8M-.69,0H-.6M-.5,0H-.224M-.224,-.224H.224V.224H-.224ZM.224,0H.5M.6,0H.69M.8,0H1.03","symbolStrokeColor":"#000","symbolFillColor":"transparent","symbolStrokeWidth":6.5,"symbolSize":13456,"symbolOffset":2,"labelOffset":-6,"labelLimit":800,"labelFont":"Liberation Sans","labelFontWeight":"bold","labelFontSize":48,"labelColor":"#000","strokeColor":"#262626","fillColor":"#fff","padding":14}}}},
{"data":{"name":"fitness"},"mark":{"type":"point","shape":"square","filled":false,"color":"#000","opacity":1,"strokeWidth":6.5,"size":676}},
{"data":{"values":[{"x":5.11,"y":6.03,"label":"(e)"}]},"mark":{"type":"text","font":"Liberation Serif","fontSize":72,"color":"#000","align":"center","baseline":"middle"},
"encoding":{"text":{"field":"label"},"x":{"field":"x","type":"quantitative","title":null,"scale":{"domain":[1,10],"range":[270,1525],"nice":false,"zero":false},"axis":{"orient":"top","offset":-1574,"values":[1,2,3,4,5,6,7,8,9,10],"labels":false}},
"y":{"field":"y","type":"quantitative","title":null,"scale":{"domain":[7,11],"range":[2636,1574],"nice":false,"zero":false},"axis":{"orient":"right","offset":-1944,"values":[7,8,9,10,11],"labels":false}}}}
]},
{"resolve":{"axis":{"x":"independent","y":"independent"}},
"encoding":{"x":{"field":"x","type":"quantitative","scale":{"domain":[0,50],"range":[2001,3305],"nice":false,"zero":false},"axis":null},"y":{"field":"y","type":"quantitative","scale":{"domain":[-80,0],"range":[2639,1574],"nice":false,"zero":false},"axis":null}},
"layer":[
{"data":{"name":"gridF"},"mark":{"type":"rule","color":"#dfdfdf","strokeWidth":2.5},"encoding":{"x2":{"field":"x2"},"y2":{"field":"y2"}}},
{"data":{"name":"noisy"},"mark":{"type":"line","strokeWidth":6},
"encoding":{"x":{"field":"x","type":"quantitative","title":"Frequency (Hz)","scale":{"domain":[0,50],"range":[2001,3305],"nice":false,"zero":false},"axis":{"orient":"bottom","offset":-334,"values":[0,10,20,30,40,50],"labelExpr":"''+datum.value"}},
"y":{"field":"y","type":"quantitative","title":"Normalized PSD (dB)","scale":{"domain":[-80,0],"range":[2639,1574],"nice":false,"zero":false},"axis":{"orient":"left","offset":-2001,"values":[-80,-60,-40,-20,0],"labelExpr":"''+datum.value","titlePadding":13,"titleY":2096}},
"color":{"datum":"Noisy signal","type":"nominal","scale":{"domain":["Noisy signal","AIMSR"],"range":["#000","#f00"]},"legend":{"orient":"none","legendX":2063,"legendY":2375,"title":null,"symbolType":"M-2.3,0H2.3","symbolStrokeWidth":6.5,"symbolSize":2704,"symbolOffset":34,"labelOffset":36,"labelLimit":800,"labelFont":"Liberation Sans","labelFontWeight":"bold","labelFontSize":52,"labelColor":"#000","strokeColor":"#262626","fillColor":"#fff","padding":12,"rowPadding":22}},
"strokeDash":{"datum":"Noisy signal","type":"nominal","scale":{"domain":["Noisy signal","AIMSR"],"range":[[22,8,7,8],[1,0]]}}}},
{"data":{"name":"aimsr"},"mark":{"type":"line","strokeWidth":7},
"encoding":{"color":{"datum":"AIMSR","type":"nominal","scale":{"domain":["Noisy signal","AIMSR"],"range":["#000","#f00"]}},
"strokeDash":{"datum":"AIMSR","type":"nominal","scale":{"domain":["Noisy signal","AIMSR"],"range":[[22,8,7,8],[1,0]]}}}},
{"data":{"name":"arrowsF"},"mark":{"type":"rule","strokeWidth":5},"encoding":{"x2":{"field":"x2"},"y2":{"field":"y2"},"color":{"field":"s","type":"nominal","scale":{"domain":["Noisy signal","AIMSR"],"range":["#000","#f00"]},"legend":null}}},
{"data":{"name":"arrowsF"},"mark":{"type":"point","shape":"M0,0L0.7,2L0,1.5L-0.7,2Z","filled":true,"opacity":1,"size":1600},"encoding":{"angle":{"field":"a","type":"quantitative","scale":null},"color":{"field":"s","type":"nominal","scale":{"domain":["Noisy signal","AIMSR"],"range":["#000","#f00"]},"legend":null}}},
{"data":{"name":"notesF"},"mark":{"type":"text","font":"Liberation Sans","fontWeight":"bold","fontSize":56,"align":"center","baseline":"middle"},"encoding":{"text":{"field":"label"},"color":{"field":"s","type":"nominal","scale":{"domain":["Noisy signal","AIMSR"],"range":["#000","#f00"]},"legend":null}}},
{"data":{"values":[{"x":23.85,"y":-99.2,"label":"(f)"}]},"mark":{"type":"text","font":"Liberation Serif","fontSize":72,"color":"#000","align":"center","baseline":"middle"},
"encoding":{"text":{"field":"label"},"x":{"field":"x","type":"quantitative","title":null,"scale":{"domain":[0,50],"range":[2001,3305],"nice":false,"zero":false},"axis":{"orient":"top","offset":-1574,"values":[0,10,20,30,40,50],"labels":false}},
"y":{"field":"y","type":"quantitative","title":null,"scale":{"domain":[-80,0],"range":[2639,1574],"nice":false,"zero":false},"axis":{"orient":"right","offset":-164,"values":[-80,-60,-40,-20,0],"labels":false}}}}
]}
]
}
